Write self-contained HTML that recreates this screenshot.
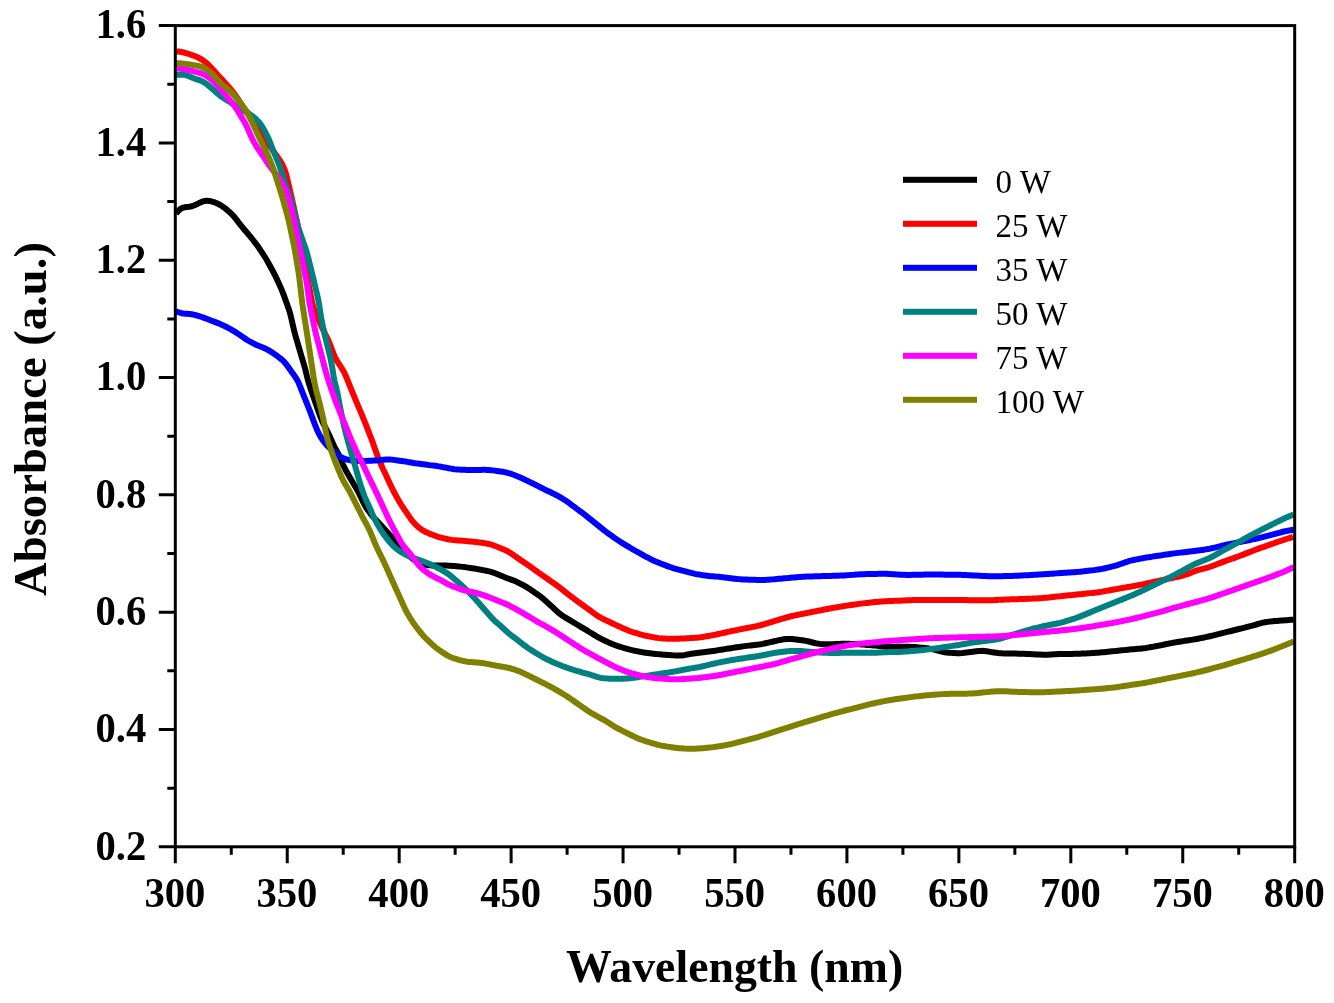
<!DOCTYPE html>
<html><head><meta charset="utf-8"><style>
html,body{margin:0;padding:0;background:#fff;width:1334px;height:1003px;overflow:hidden}
svg{display:block;will-change:transform}
text{font-family:"Liberation Serif",serif}
</style></head><body>
<svg width="1334" height="1003" viewBox="0 0 1334 1003">
<rect width="1334" height="1003" fill="#ffffff"/>
<g fill="none" stroke-width="6.00" stroke-linejoin="round" stroke-linecap="butt">
<path stroke="#000000" d="M176.00,213.50 L177.33,212.02 L178.68,210.59 L180.09,209.31 L181.59,208.29 L183.24,207.62 L185.03,207.27 L186.90,207.09 L188.82,206.89 L190.73,206.54 L192.62,206.00 L194.47,205.31 L196.27,204.49 L198.05,203.60 L199.81,202.70 L201.61,201.90 L203.45,201.27 L205.33,200.87 L207.24,200.76 L209.16,200.92 L211.08,201.29 L212.98,201.81 L214.86,202.46 L216.70,203.21 L218.49,204.06 L220.24,205.00 L221.94,206.03 L223.58,207.16 L225.16,208.37 L226.70,209.63 L228.22,210.92 L229.72,212.24 L231.18,213.60 L232.59,215.00 L233.92,216.48 L235.19,218.01 L236.42,219.59 L237.63,221.18 L238.84,222.77 L240.05,224.36 L241.29,225.93 L242.55,227.48 L243.84,229.00 L245.15,230.52 L246.46,232.02 L247.76,233.54 L249.05,235.08 L250.31,236.62 L251.56,238.18 L252.81,239.75 L254.05,241.32 L255.28,242.89 L256.48,244.49 L257.65,246.11 L258.80,247.75 L259.92,249.40 L261.04,251.06 L262.15,252.72 L263.25,254.39 L264.34,256.07 L265.40,257.76 L266.44,259.47 L267.44,261.20 L268.41,262.94 L269.38,264.70 L270.34,266.45 L271.29,268.21 L272.25,269.96 L273.19,271.73 L274.12,273.50 L275.03,275.28 L275.90,277.08 L276.75,278.88 L277.59,280.70 L278.42,282.52 L279.25,284.34 L280.07,286.16 L280.88,287.99 L281.68,289.82 L282.44,291.67 L283.17,293.53 L283.88,295.40 L284.56,297.28 L285.24,299.16 L285.91,301.05 L286.58,302.93 L287.25,304.81 L287.92,306.70 L288.58,308.59 L289.21,310.48 L289.79,312.39 L290.33,314.31 L290.82,316.25 L291.27,318.20 L291.72,320.15 L292.16,322.10 L292.60,324.05 L293.04,326.00 L293.49,327.95 L293.94,329.89 L294.42,331.84 L294.93,333.77 L295.46,335.70 L296.01,337.62 L296.57,339.54 L297.13,341.46 L297.70,343.38 L298.26,345.30 L298.83,347.21 L299.39,349.13 L299.96,351.05 L300.52,352.97 L301.09,354.89 L301.65,356.81 L302.22,358.72 L302.79,360.64 L303.36,362.56 L303.93,364.48 L304.47,366.40 L305.00,368.33 L305.49,370.26 L305.97,372.21 L306.44,374.15 L306.91,376.09 L307.39,378.03 L307.91,379.96 L308.45,381.89 L309.03,383.80 L309.64,385.71 L310.25,387.61 L310.88,389.51 L311.51,391.40 L312.16,393.30 L312.82,395.19 L313.48,397.07 L314.14,398.96 L314.80,400.85 L315.46,402.74 L316.12,404.62 L316.78,406.51 L317.44,408.40 L318.10,410.29 L318.76,412.18 L319.43,414.06 L320.10,415.94 L320.81,417.81 L321.55,419.66 L322.35,421.49 L323.19,423.30 L324.08,425.09 L324.99,426.88 L325.91,428.65 L326.84,430.42 L327.75,432.20 L328.63,433.99 L329.49,435.80 L330.32,437.62 L331.14,439.44 L331.94,441.27 L332.75,443.10 L333.58,444.92 L334.44,446.72 L335.33,448.51 L336.27,450.27 L337.24,452.02 L338.21,453.76 L339.15,455.51 L340.02,457.30 L340.82,459.12 L341.56,460.97 L342.30,462.82 L343.08,464.66 L343.91,466.48 L344.79,468.27 L345.70,470.04 L346.65,471.81 L347.62,473.55 L348.62,475.29 L349.62,477.01 L350.64,478.74 L351.66,480.46 L352.68,482.18 L353.69,483.90 L354.70,485.63 L355.71,487.36 L356.70,489.09 L357.68,490.83 L358.64,492.59 L359.55,494.37 L360.43,496.16 L361.28,497.97 L362.13,499.78 L362.99,501.59 L363.87,503.38 L364.80,505.14 L365.80,506.86 L366.86,508.55 L367.97,510.21 L369.12,511.84 L370.29,513.46 L371.52,515.03 L372.80,516.56 L374.13,518.04 L375.51,519.48 L376.91,520.91 L378.30,522.34 L379.69,523.79 L381.05,525.25 L382.40,526.72 L383.74,528.21 L385.07,529.70 L386.41,531.19 L387.75,532.67 L389.09,534.15 L390.45,535.62 L391.81,537.09 L393.17,538.56 L394.52,540.03 L395.87,541.50 L397.22,542.98 L398.56,544.47 L399.89,545.96 L401.23,547.45 L402.56,548.94 L403.90,550.42 L405.25,551.89 L406.64,553.33 L408.07,554.72 L409.55,556.05 L411.08,557.33 L412.63,558.59 L414.20,559.82 L415.78,561.03 L417.39,562.17 L419.05,563.18 L420.79,563.97 L422.63,564.52 L424.55,564.85 L426.51,565.06 L428.50,565.20 L430.49,565.31 L432.49,565.39 L434.49,565.45 L436.49,565.48 L438.49,565.50 L440.49,565.50 L442.49,565.52 L444.49,565.54 L446.48,565.60 L448.48,565.69 L450.48,565.81 L452.47,565.95 L454.47,566.10 L456.46,566.25 L458.45,566.43 L460.44,566.63 L462.43,566.86 L464.41,567.10 L466.39,567.36 L468.37,567.63 L470.35,567.91 L472.33,568.20 L474.31,568.52 L476.28,568.86 L478.24,569.21 L480.21,569.59 L482.17,569.97 L484.13,570.36 L486.09,570.76 L488.05,571.19 L489.99,571.64 L491.91,572.17 L493.80,572.77 L495.67,573.46 L497.52,574.22 L499.35,575.01 L501.19,575.80 L503.03,576.57 L504.89,577.32 L506.75,578.02 L508.63,578.70 L510.52,579.37 L512.39,580.07 L514.24,580.81 L516.06,581.61 L517.87,582.46 L519.67,583.34 L521.45,584.24 L523.22,585.17 L524.97,586.13 L526.69,587.14 L528.38,588.20 L530.05,589.30 L531.70,590.43 L533.35,591.56 L535.00,592.69 L536.65,593.83 L538.28,594.97 L539.90,596.14 L541.49,597.35 L543.04,598.61 L544.55,599.91 L546.04,601.25 L547.51,602.60 L548.98,603.95 L550.45,605.31 L551.91,606.67 L553.37,608.04 L554.83,609.41 L556.30,610.77 L557.78,612.10 L559.31,613.38 L560.89,614.58 L562.52,615.72 L564.20,616.79 L565.91,617.84 L567.62,618.87 L569.33,619.90 L571.05,620.93 L572.76,621.96 L574.48,622.99 L576.19,624.02 L577.91,625.04 L579.62,626.07 L581.34,627.10 L583.05,628.13 L584.77,629.16 L586.48,630.19 L588.19,631.23 L589.90,632.26 L591.61,633.31 L593.31,634.36 L595.02,635.40 L596.73,636.44 L598.45,637.44 L600.20,638.40 L601.98,639.32 L603.78,640.18 L605.59,641.03 L607.41,641.86 L609.23,642.68 L611.06,643.49 L612.90,644.27 L614.75,645.01 L616.63,645.69 L618.52,646.32 L620.43,646.92 L622.34,647.50 L624.26,648.07 L626.18,648.63 L628.10,649.17 L630.03,649.68 L631.98,650.14 L633.93,650.57 L635.89,650.97 L637.85,651.37 L639.81,651.75 L641.77,652.13 L643.74,652.47 L645.72,652.78 L647.70,653.05 L649.68,653.29 L651.67,653.51 L653.66,653.72 L655.65,653.93 L657.64,654.13 L659.63,654.32 L661.62,654.49 L663.61,654.66 L665.61,654.81 L667.60,654.96 L669.60,655.10 L671.59,655.24 L673.59,655.37 L675.58,655.48 L677.58,655.55 L679.56,655.56 L681.54,655.46 L683.50,655.23 L685.45,654.89 L687.40,654.48 L689.35,654.08 L691.31,653.73 L693.28,653.46 L695.27,653.24 L697.25,653.03 L699.24,652.82 L701.23,652.59 L703.21,652.33 L705.19,652.07 L707.18,651.79 L709.16,651.52 L711.14,651.24 L713.12,650.95 L715.09,650.66 L717.07,650.36 L719.05,650.05 L721.02,649.74 L723.00,649.42 L724.97,649.11 L726.95,648.79 L728.92,648.48 L730.90,648.17 L732.88,647.86 L734.85,647.56 L736.83,647.25 L738.81,646.95 L740.78,646.66 L742.76,646.37 L744.74,646.11 L746.73,645.86 L748.72,645.64 L750.71,645.43 L752.69,645.23 L754.68,645.02 L756.67,644.79 L758.65,644.53 L760.62,644.22 L762.58,643.86 L764.54,643.45 L766.49,643.02 L768.44,642.59 L770.39,642.14 L772.34,641.70 L774.29,641.25 L776.24,640.80 L778.19,640.36 L780.14,639.94 L782.11,639.58 L784.08,639.30 L786.06,639.10 L788.05,638.99 L790.04,638.98 L792.02,639.06 L794.01,639.22 L796.00,639.44 L797.98,639.68 L799.96,639.93 L801.94,640.21 L803.92,640.52 L805.88,640.88 L807.83,641.29 L809.77,641.76 L811.70,642.27 L813.63,642.76 L815.58,643.21 L817.53,643.58 L819.51,643.88 L821.49,644.11 L823.47,644.26 L825.47,644.34 L827.46,644.36 L829.46,644.34 L831.46,644.28 L833.46,644.20 L835.46,644.10 L837.45,644.00 L839.45,643.90 L841.45,643.82 L843.45,643.76 L845.44,643.74 L847.44,643.76 L849.44,643.82 L851.44,643.90 L853.43,644.00 L855.43,644.09 L857.43,644.20 L859.42,644.31 L861.42,644.44 L863.41,644.58 L865.41,644.74 L867.40,644.89 L869.40,645.06 L871.39,645.22 L873.38,645.40 L875.37,645.60 L877.36,645.82 L879.34,646.06 L881.33,646.30 L883.31,646.55 L885.30,646.78 L887.28,646.96 L889.27,647.08 L891.26,647.11 L893.25,647.04 L895.24,646.92 L897.23,646.80 L899.22,646.70 L901.22,646.65 L903.22,646.65 L905.22,646.69 L907.21,646.74 L909.21,646.81 L911.21,646.89 L913.21,646.98 L915.20,647.11 L917.20,647.26 L919.19,647.43 L921.18,647.62 L923.17,647.82 L925.16,648.04 L927.14,648.28 L929.11,648.58 L931.07,648.94 L933.01,649.38 L934.95,649.87 L936.88,650.38 L938.81,650.90 L940.75,651.40 L942.69,651.86 L944.64,652.24 L946.61,652.53 L948.59,652.73 L950.58,652.88 L952.57,653.00 L954.57,653.10 L956.57,653.16 L958.56,653.18 L960.55,653.13 L962.54,652.99 L964.53,652.80 L966.51,652.57 L968.50,652.32 L970.48,652.07 L972.46,651.81 L974.44,651.55 L976.43,651.29 L978.40,651.06 L980.38,650.90 L982.35,650.87 L984.32,650.98 L986.29,651.22 L988.25,651.54 L990.22,651.87 L992.20,652.20 L994.17,652.51 L996.15,652.79 L998.13,653.03 L1000.12,653.21 L1002.11,653.33 L1004.11,653.40 L1006.10,653.43 L1008.10,653.45 L1010.10,653.47 L1012.10,653.49 L1014.10,653.53 L1016.10,653.57 L1018.10,653.64 L1020.10,653.71 L1022.10,653.78 L1024.10,653.86 L1026.09,653.95 L1028.09,654.03 L1030.09,654.12 L1032.09,654.22 L1034.08,654.32 L1036.08,654.42 L1038.08,654.53 L1040.08,654.62 L1042.07,654.70 L1044.07,654.74 L1046.07,654.72 L1048.06,654.65 L1050.06,654.55 L1052.05,654.43 L1054.05,654.30 L1056.05,654.18 L1058.04,654.07 L1060.04,653.99 L1062.04,653.94 L1064.04,653.91 L1066.04,653.90 L1068.04,653.90 L1070.04,653.89 L1072.04,653.88 L1074.04,653.86 L1076.03,653.81 L1078.03,653.74 L1080.03,653.66 L1082.03,653.57 L1084.03,653.48 L1086.02,653.38 L1088.02,653.28 L1090.02,653.18 L1092.02,653.07 L1094.01,652.95 L1096.01,652.83 L1098.00,652.69 L1100.00,652.54 L1101.99,652.36 L1103.98,652.17 L1105.97,651.96 L1107.96,651.75 L1109.95,651.54 L1111.93,651.33 L1113.92,651.12 L1115.91,650.92 L1117.90,650.71 L1119.89,650.51 L1121.88,650.31 L1123.87,650.11 L1125.86,649.92 L1127.85,649.72 L1129.84,649.53 L1131.84,649.35 L1133.83,649.17 L1135.82,649.00 L1137.81,648.82 L1139.80,648.64 L1141.79,648.45 L1143.78,648.22 L1145.76,647.96 L1147.73,647.65 L1149.70,647.31 L1151.67,646.95 L1153.64,646.59 L1155.60,646.22 L1157.57,645.85 L1159.53,645.47 L1161.50,645.09 L1163.46,644.70 L1165.42,644.32 L1167.38,643.92 L1169.34,643.53 L1171.30,643.15 L1173.27,642.77 L1175.24,642.41 L1177.21,642.07 L1179.18,641.74 L1181.15,641.42 L1183.13,641.10 L1185.10,640.79 L1187.08,640.48 L1189.06,640.18 L1191.03,639.89 L1193.01,639.60 L1194.98,639.28 L1196.95,638.93 L1198.91,638.55 L1200.87,638.14 L1202.83,637.73 L1204.78,637.31 L1206.74,636.89 L1208.69,636.45 L1210.64,636.01 L1212.58,635.55 L1214.53,635.08 L1216.47,634.60 L1218.41,634.12 L1220.35,633.65 L1222.30,633.16 L1224.24,632.68 L1226.18,632.20 L1228.12,631.71 L1230.06,631.22 L1231.99,630.73 L1233.93,630.24 L1235.87,629.75 L1237.81,629.26 L1239.75,628.77 L1241.69,628.29 L1243.63,627.81 L1245.57,627.33 L1247.52,626.85 L1249.46,626.36 L1251.39,625.87 L1253.33,625.36 L1255.25,624.81 L1257.17,624.25 L1259.08,623.67 L1261.00,623.13 L1262.93,622.65 L1264.88,622.25 L1266.85,621.92 L1268.83,621.64 L1270.81,621.42 L1272.80,621.22 L1274.79,621.06 L1276.79,620.90 L1278.78,620.76 L1280.78,620.61 L1282.77,620.46 L1284.77,620.31 L1286.76,620.16 L1288.75,620.01 L1290.75,619.85 L1292.74,619.70 L1293.74,619.62"/>
<path stroke="#ff0000" d="M176.00,51.40 L177.99,51.56 L179.97,51.77 L181.93,52.07 L183.86,52.49 L185.78,53.02 L187.68,53.61 L189.58,54.24 L191.47,54.89 L193.35,55.55 L195.22,56.26 L197.05,57.03 L198.84,57.89 L200.59,58.85 L202.28,59.89 L203.92,61.01 L205.49,62.22 L206.99,63.52 L208.44,64.89 L209.86,66.29 L211.26,67.72 L212.63,69.18 L213.98,70.65 L215.31,72.14 L216.64,73.64 L217.96,75.14 L219.29,76.63 L220.63,78.12 L221.98,79.59 L223.34,81.06 L224.70,82.53 L226.05,84.00 L227.39,85.48 L228.71,86.98 L230.01,88.50 L231.29,90.04 L232.55,91.59 L233.77,93.17 L234.97,94.77 L236.13,96.40 L237.27,98.04 L238.38,99.70 L239.48,101.37 L240.59,103.04 L241.70,104.70 L242.83,106.35 L243.95,108.00 L245.08,109.66 L246.20,111.31 L247.31,112.97 L248.42,114.64 L249.53,116.30 L250.64,117.97 L251.75,119.63 L252.87,121.29 L253.99,122.95 L255.11,124.60 L256.25,126.25 L257.39,127.89 L258.54,129.53 L259.67,131.17 L260.78,132.83 L261.87,134.51 L262.94,136.20 L264.00,137.89 L265.07,139.58 L266.17,141.25 L267.30,142.89 L268.47,144.51 L269.67,146.12 L270.86,147.72 L272.05,149.33 L273.23,150.94 L274.40,152.57 L275.56,154.19 L276.72,155.83 L277.87,157.46 L279.01,159.10 L280.12,160.76 L281.17,162.45 L282.14,164.18 L283.02,165.96 L283.82,167.79 L284.55,169.64 L285.23,171.52 L285.83,173.42 L286.38,175.34 L286.87,177.27 L287.34,179.22 L287.80,181.16 L288.26,183.11 L288.71,185.06 L289.17,187.01 L289.62,188.95 L290.07,190.90 L290.53,192.85 L290.98,194.80 L291.43,196.75 L291.87,198.70 L292.31,200.65 L292.74,202.60 L293.18,204.55 L293.61,206.50 L294.05,208.46 L294.48,210.41 L294.91,212.36 L295.35,214.31 L295.78,216.27 L296.21,218.22 L296.64,220.17 L297.05,222.13 L297.44,224.09 L297.81,226.06 L298.16,228.02 L298.50,230.00 L298.83,231.97 L299.16,233.94 L299.49,235.91 L299.81,237.89 L300.14,239.86 L300.47,241.83 L300.80,243.80 L301.13,245.78 L301.47,247.75 L301.81,249.72 L302.17,251.69 L302.54,253.65 L302.93,255.61 L303.32,257.58 L303.71,259.54 L304.10,261.50 L304.49,263.46 L304.88,265.42 L305.28,267.38 L305.67,269.34 L306.06,271.30 L306.45,273.26 L306.84,275.23 L307.24,277.19 L307.63,279.15 L308.01,281.11 L308.39,283.07 L308.78,285.04 L309.15,287.00 L309.53,288.97 L309.91,290.93 L310.29,292.89 L310.66,294.86 L311.04,296.82 L311.42,298.79 L311.81,300.75 L312.21,302.70 L312.66,304.64 L313.19,306.56 L313.81,308.45 L314.51,310.32 L315.27,312.16 L316.05,314.00 L316.85,315.83 L317.65,317.67 L318.45,319.50 L319.25,321.33 L320.06,323.16 L320.88,324.98 L321.72,326.80 L322.58,328.60 L323.46,330.40 L324.35,332.19 L325.24,333.98 L326.13,335.77 L327.01,337.57 L327.87,339.37 L328.69,341.19 L329.47,343.03 L330.20,344.89 L330.90,346.76 L331.59,348.64 L332.28,350.51 L332.97,352.39 L333.69,354.25 L334.46,356.09 L335.31,357.88 L336.25,359.63 L337.28,361.34 L338.36,363.02 L339.46,364.69 L340.56,366.35 L341.64,368.03 L342.69,369.73 L343.67,371.46 L344.57,373.24 L345.41,375.05 L346.20,376.88 L346.96,378.73 L347.72,380.58 L348.47,382.43 L349.21,384.29 L349.96,386.14 L350.71,388.00 L351.45,389.85 L352.21,391.71 L352.96,393.56 L353.72,395.41 L354.48,397.26 L355.25,399.11 L356.02,400.95 L356.79,402.80 L357.57,404.64 L358.36,406.48 L359.14,408.32 L359.92,410.16 L360.71,412.00 L361.48,413.84 L362.25,415.69 L363.00,417.54 L363.75,419.39 L364.50,421.25 L365.24,423.11 L365.97,424.97 L366.71,426.83 L367.43,428.69 L368.16,430.56 L368.89,432.42 L369.61,434.28 L370.33,436.15 L371.06,438.01 L371.77,439.88 L372.47,441.75 L373.15,443.63 L373.82,445.52 L374.47,447.41 L375.12,449.30 L375.78,451.19 L376.46,453.07 L377.16,454.94 L377.88,456.81 L378.61,458.67 L379.36,460.52 L380.12,462.37 L380.90,464.21 L381.70,466.04 L382.53,467.87 L383.37,469.68 L384.24,471.48 L385.10,473.28 L385.95,475.09 L386.79,476.91 L387.62,478.72 L388.45,480.54 L389.29,482.36 L390.14,484.17 L391.01,485.97 L391.89,487.77 L392.79,489.56 L393.69,491.34 L394.60,493.12 L395.54,494.89 L396.49,496.64 L397.46,498.39 L398.44,500.14 L399.45,501.86 L400.48,503.57 L401.55,505.26 L402.64,506.94 L403.74,508.60 L404.86,510.27 L405.98,511.92 L407.10,513.57 L408.24,515.22 L409.38,516.86 L410.53,518.50 L411.71,520.10 L412.95,521.66 L414.25,523.16 L415.64,524.59 L417.08,525.96 L418.59,527.27 L420.15,528.50 L421.76,529.67 L423.43,530.74 L425.16,531.70 L426.95,532.56 L428.78,533.35 L430.64,534.10 L432.50,534.82 L434.37,535.52 L436.25,536.19 L438.15,536.80 L440.07,537.34 L442.00,537.85 L443.95,538.32 L445.89,538.77 L447.84,539.20 L449.80,539.57 L451.77,539.88 L453.75,540.11 L455.74,540.30 L457.73,540.45 L459.73,540.59 L461.72,540.73 L463.72,540.88 L465.71,541.05 L467.70,541.22 L469.69,541.41 L471.68,541.60 L473.67,541.80 L475.66,542.00 L477.65,542.23 L479.63,542.48 L481.61,542.76 L483.59,543.05 L485.56,543.37 L487.52,543.74 L489.46,544.18 L491.37,544.72 L493.26,545.34 L495.14,546.02 L497.01,546.74 L498.87,547.47 L500.73,548.20 L502.58,548.96 L504.41,549.74 L506.21,550.59 L507.97,551.51 L509.68,552.53 L511.36,553.61 L513.01,554.73 L514.65,555.87 L516.29,557.02 L517.93,558.17 L519.56,559.31 L521.21,560.45 L522.86,561.58 L524.52,562.70 L526.18,563.81 L527.84,564.92 L529.49,566.05 L531.13,567.20 L532.75,568.37 L534.36,569.55 L535.97,570.73 L537.59,571.91 L539.22,573.07 L540.86,574.22 L542.50,575.37 L544.14,576.51 L545.77,577.66 L547.41,578.81 L549.05,579.96 L550.68,581.11 L552.32,582.26 L553.96,583.41 L555.59,584.55 L557.22,585.71 L558.83,586.89 L560.42,588.11 L561.99,589.35 L563.54,590.61 L565.09,591.86 L566.66,593.10 L568.25,594.32 L569.84,595.53 L571.43,596.74 L573.02,597.95 L574.62,599.16 L576.22,600.35 L577.83,601.54 L579.46,602.70 L581.08,603.87 L582.71,605.03 L584.34,606.19 L585.96,607.37 L587.57,608.55 L589.18,609.74 L590.78,610.93 L592.38,612.13 L593.99,613.32 L595.61,614.49 L597.25,615.62 L598.94,616.68 L600.67,617.67 L602.44,618.60 L604.23,619.48 L606.03,620.35 L607.84,621.21 L609.64,622.06 L611.45,622.92 L613.26,623.77 L615.08,624.61 L616.89,625.45 L618.71,626.28 L620.53,627.11 L622.35,627.93 L624.18,628.75 L626.01,629.56 L627.84,630.34 L629.70,631.07 L631.58,631.74 L633.48,632.36 L635.39,632.93 L637.31,633.49 L639.23,634.04 L641.16,634.58 L643.09,635.09 L645.03,635.57 L646.98,636.01 L648.94,636.42 L650.90,636.80 L652.86,637.16 L654.83,637.52 L656.80,637.85 L658.78,638.14 L660.76,638.36 L662.75,638.51 L664.74,638.61 L666.74,638.67 L668.74,638.73 L670.74,638.77 L672.74,638.80 L674.73,638.79 L676.73,638.75 L678.73,638.68 L680.73,638.59 L682.72,638.49 L684.72,638.38 L686.72,638.27 L688.72,638.16 L690.71,638.05 L692.71,637.93 L694.70,637.81 L696.70,637.66 L698.69,637.48 L700.67,637.25 L702.65,636.97 L704.62,636.65 L706.59,636.31 L708.56,635.96 L710.53,635.60 L712.49,635.23 L714.45,634.85 L716.41,634.44 L718.37,634.02 L720.32,633.59 L722.27,633.15 L724.22,632.71 L726.17,632.27 L728.13,631.84 L730.08,631.42 L732.04,631.01 L734.00,630.61 L735.96,630.21 L737.92,629.82 L739.88,629.42 L741.84,629.03 L743.80,628.65 L745.77,628.26 L747.73,627.88 L749.69,627.49 L751.65,627.11 L753.62,626.73 L755.58,626.34 L757.53,625.92 L759.48,625.48 L761.41,624.98 L763.34,624.44 L765.26,623.88 L767.17,623.30 L769.08,622.71 L771.00,622.13 L772.91,621.55 L774.82,620.96 L776.74,620.38 L778.65,619.81 L780.57,619.23 L782.48,618.66 L784.40,618.09 L786.32,617.53 L788.24,616.99 L790.18,616.49 L792.12,616.03 L794.07,615.60 L796.03,615.20 L797.99,614.80 L799.95,614.41 L801.91,614.02 L803.88,613.62 L805.84,613.23 L807.80,612.84 L809.76,612.45 L811.72,612.06 L813.68,611.66 L815.64,611.27 L817.60,610.88 L819.56,610.49 L821.53,610.09 L823.49,609.70 L825.45,609.31 L827.41,608.93 L829.38,608.56 L831.34,608.20 L833.31,607.86 L835.29,607.52 L837.26,607.19 L839.23,606.86 L841.20,606.54 L843.18,606.22 L845.15,605.90 L847.13,605.60 L849.11,605.30 L851.09,605.01 L853.07,604.72 L855.04,604.43 L857.02,604.15 L859.01,603.88 L860.99,603.62 L862.97,603.38 L864.96,603.14 L866.95,602.91 L868.93,602.69 L870.92,602.47 L872.91,602.26 L874.90,602.07 L876.89,601.90 L878.89,601.75 L880.88,601.61 L882.88,601.48 L884.87,601.35 L886.87,601.22 L888.87,601.11 L890.86,601.01 L892.86,600.93 L894.86,600.86 L896.86,600.79 L898.86,600.71 L900.85,600.63 L902.85,600.54 L904.85,600.44 L906.85,600.33 L908.84,600.23 L910.84,600.13 L912.84,600.05 L914.84,599.98 L916.84,599.93 L918.84,599.91 L920.84,599.90 L922.84,599.90 L924.84,599.90 L926.84,599.90 L928.84,599.90 L930.84,599.90 L932.84,599.90 L934.84,599.90 L936.84,599.90 L938.84,599.90 L940.84,599.90 L942.84,599.90 L944.84,599.90 L946.84,599.90 L948.84,599.90 L950.84,599.90 L952.84,599.90 L954.84,599.90 L956.84,599.91 L958.84,599.92 L960.83,599.95 L962.83,599.99 L964.83,600.03 L966.83,600.08 L968.83,600.13 L970.83,600.18 L972.83,600.23 L974.83,600.26 L976.83,600.28 L978.83,600.29 L980.83,600.30 L982.83,600.30 L984.83,600.30 L986.83,600.28 L988.83,600.26 L990.83,600.21 L992.83,600.14 L994.82,600.05 L996.82,599.96 L998.82,599.87 L1000.82,599.78 L1002.82,599.69 L1004.81,599.61 L1006.81,599.53 L1008.81,599.45 L1010.81,599.37 L1012.81,599.30 L1014.81,599.22 L1016.81,599.16 L1018.80,599.10 L1020.80,599.05 L1022.80,598.99 L1024.80,598.94 L1026.80,598.87 L1028.80,598.80 L1030.80,598.72 L1032.79,598.62 L1034.79,598.51 L1036.79,598.39 L1038.78,598.27 L1040.78,598.14 L1042.77,598.00 L1044.77,597.85 L1046.76,597.66 L1048.75,597.46 L1050.74,597.25 L1052.72,597.02 L1054.71,596.80 L1056.70,596.58 L1058.69,596.36 L1060.68,596.15 L1062.66,595.94 L1064.65,595.74 L1066.64,595.54 L1068.63,595.34 L1070.62,595.14 L1072.61,594.94 L1074.60,594.74 L1076.59,594.54 L1078.58,594.34 L1080.57,594.14 L1082.56,593.94 L1084.55,593.74 L1086.54,593.54 L1088.53,593.34 L1090.52,593.13 L1092.51,592.92 L1094.50,592.70 L1096.49,592.47 L1098.47,592.21 L1100.45,591.93 L1102.42,591.61 L1104.39,591.27 L1106.36,590.91 L1108.32,590.55 L1110.29,590.18 L1112.26,589.82 L1114.22,589.46 L1116.19,589.10 L1118.16,588.76 L1120.13,588.41 L1122.10,588.07 L1124.07,587.73 L1126.04,587.38 L1128.01,587.04 L1129.98,586.69 L1131.95,586.33 L1133.92,585.97 L1135.88,585.60 L1137.85,585.23 L1139.81,584.86 L1141.78,584.49 L1143.74,584.10 L1145.70,583.70 L1147.65,583.28 L1149.61,582.85 L1151.56,582.41 L1153.51,581.97 L1155.46,581.53 L1157.41,581.10 L1159.37,580.67 L1161.32,580.26 L1163.28,579.85 L1165.24,579.45 L1167.20,579.06 L1169.16,578.66 L1171.12,578.27 L1173.08,577.85 L1175.03,577.43 L1176.98,576.98 L1178.92,576.51 L1180.86,576.02 L1182.80,575.52 L1184.72,574.97 L1186.61,574.36 L1188.48,573.67 L1190.33,572.93 L1192.17,572.16 L1194.02,571.43 L1195.90,570.76 L1197.80,570.17 L1199.72,569.63 L1201.66,569.12 L1203.59,568.62 L1205.53,568.11 L1207.45,567.59 L1209.37,567.02 L1211.26,566.39 L1213.14,565.72 L1215.01,565.02 L1216.88,564.29 L1218.74,563.56 L1220.60,562.84 L1222.47,562.11 L1224.34,561.41 L1226.21,560.72 L1228.10,560.04 L1229.98,559.38 L1231.87,558.72 L1233.76,558.06 L1235.65,557.40 L1237.53,556.73 L1239.41,556.05 L1241.28,555.35 L1243.15,554.63 L1245.01,553.89 L1246.87,553.15 L1248.72,552.41 L1250.58,551.67 L1252.44,550.94 L1254.31,550.22 L1256.18,549.52 L1258.06,548.83 L1259.94,548.16 L1261.83,547.49 L1263.71,546.82 L1265.60,546.16 L1267.49,545.49 L1269.37,544.83 L1271.26,544.17 L1273.15,543.51 L1275.04,542.85 L1276.93,542.20 L1278.82,541.54 L1280.71,540.89 L1282.60,540.25 L1284.50,539.61 L1286.40,538.99 L1288.30,538.38 L1290.21,537.78 L1292.12,537.19 L1293.07,536.89"/>
<path stroke="#0000ff" d="M176.00,311.30 L177.85,312.02 L179.72,312.68 L181.61,313.20 L183.53,313.54 L185.48,313.73 L187.45,313.83 L189.42,313.96 L191.38,314.19 L193.33,314.55 L195.27,315.01 L197.19,315.54 L199.10,316.12 L201.00,316.75 L202.89,317.40 L204.77,318.08 L206.64,318.79 L208.50,319.51 L210.37,320.23 L212.23,320.95 L214.10,321.66 L215.97,322.36 L217.84,323.08 L219.69,323.84 L221.52,324.64 L223.33,325.48 L225.12,326.36 L226.91,327.26 L228.68,328.19 L230.44,329.13 L232.18,330.11 L233.91,331.12 L235.61,332.17 L237.28,333.26 L238.93,334.39 L240.58,335.52 L242.22,336.65 L243.88,337.77 L245.55,338.87 L247.24,339.95 L248.94,340.99 L250.67,341.98 L252.43,342.93 L254.21,343.82 L256.02,344.67 L257.85,345.46 L259.70,346.21 L261.56,346.94 L263.40,347.70 L265.21,348.52 L266.99,349.42 L268.73,350.39 L270.44,351.43 L272.12,352.50 L273.78,353.61 L275.42,354.76 L277.04,355.93 L278.65,357.11 L280.24,358.31 L281.78,359.56 L283.25,360.89 L284.61,362.32 L285.87,363.84 L287.07,365.43 L288.23,367.05 L289.39,368.68 L290.55,370.31 L291.71,371.94 L292.88,373.56 L294.05,375.18 L295.20,376.82 L296.29,378.48 L297.29,380.19 L298.20,381.96 L299.01,383.77 L299.78,385.61 L300.52,387.47 L301.25,389.33 L301.98,391.19 L302.72,393.05 L303.46,394.91 L304.21,396.76 L304.95,398.62 L305.69,400.48 L306.43,402.33 L307.18,404.19 L307.92,406.05 L308.65,407.91 L309.37,409.77 L310.09,411.64 L310.79,413.51 L311.49,415.39 L312.19,417.26 L312.89,419.14 L313.59,421.01 L314.30,422.88 L315.01,424.75 L315.74,426.61 L316.49,428.46 L317.28,430.29 L318.12,432.11 L319.01,433.89 L319.95,435.65 L320.96,437.37 L322.03,439.06 L323.16,440.70 L324.35,442.29 L325.61,443.83 L326.94,445.32 L328.33,446.75 L329.76,448.15 L331.21,449.52 L332.68,450.87 L334.17,452.20 L335.67,453.50 L337.23,454.74 L338.86,455.87 L340.56,456.88 L342.33,457.78 L344.15,458.56 L346.02,459.23 L347.93,459.77 L349.88,460.19 L351.84,460.52 L353.82,460.76 L355.81,460.93 L357.80,461.04 L359.80,461.09 L361.80,461.08 L363.80,461.04 L365.79,460.96 L367.79,460.86 L369.79,460.75 L371.79,460.65 L373.78,460.54 L375.78,460.44 L377.77,460.31 L379.76,460.14 L381.75,459.93 L383.73,459.71 L385.70,459.52 L387.68,459.43 L389.66,459.46 L391.63,459.62 L393.61,459.86 L395.59,460.14 L397.57,460.42 L399.55,460.70 L401.53,460.97 L403.51,461.23 L405.49,461.52 L407.46,461.84 L409.43,462.19 L411.39,462.57 L413.35,462.94 L415.32,463.27 L417.30,463.55 L419.28,463.80 L421.26,464.03 L423.25,464.29 L425.23,464.56 L427.21,464.84 L429.19,465.11 L431.17,465.36 L433.15,465.59 L435.14,465.83 L437.12,466.09 L439.09,466.40 L441.06,466.74 L443.03,467.11 L444.99,467.50 L446.95,467.88 L448.91,468.26 L450.88,468.61 L452.85,468.92 L454.83,469.19 L456.82,469.41 L458.81,469.59 L460.80,469.72 L462.80,469.80 L464.80,469.86 L466.80,469.90 L468.79,469.94 L470.79,469.98 L472.79,470.01 L474.79,470.01 L476.79,469.99 L478.79,469.95 L480.79,469.90 L482.79,469.87 L484.79,469.87 L486.78,469.91 L488.78,470.00 L490.77,470.16 L492.75,470.37 L494.73,470.63 L496.71,470.91 L498.69,471.20 L500.67,471.50 L502.64,471.81 L504.61,472.15 L506.56,472.56 L508.49,473.05 L510.39,473.62 L512.28,474.27 L514.15,474.97 L516.00,475.71 L517.85,476.48 L519.68,477.28 L521.51,478.10 L523.32,478.93 L525.14,479.78 L526.94,480.64 L528.75,481.50 L530.55,482.36 L532.35,483.23 L534.15,484.11 L535.94,484.99 L537.73,485.90 L539.50,486.82 L541.27,487.75 L543.04,488.67 L544.83,489.57 L546.63,490.43 L548.45,491.26 L550.26,492.09 L552.07,492.94 L553.86,493.83 L555.64,494.75 L557.39,495.70 L559.14,496.67 L560.87,497.67 L562.60,498.68 L564.30,499.73 L565.98,500.80 L567.63,501.92 L569.25,503.09 L570.84,504.30 L572.42,505.52 L574.01,506.74 L575.60,507.95 L577.21,509.13 L578.83,510.31 L580.45,511.48 L582.06,512.67 L583.65,513.88 L585.23,515.10 L586.80,516.34 L588.36,517.59 L589.92,518.84 L591.48,520.09 L593.05,521.34 L594.60,522.59 L596.16,523.85 L597.71,525.11 L599.25,526.39 L600.79,527.66 L602.34,528.93 L603.89,530.18 L605.47,531.41 L607.08,532.60 L608.70,533.77 L610.33,534.93 L611.97,536.08 L613.60,537.22 L615.24,538.37 L616.89,539.50 L618.54,540.62 L620.21,541.72 L621.90,542.80 L623.60,543.85 L625.31,544.88 L627.03,545.91 L628.74,546.94 L630.46,547.97 L632.18,548.99 L633.90,550.00 L635.64,551.00 L637.38,551.98 L639.13,552.94 L640.88,553.90 L642.64,554.86 L644.40,555.82 L646.15,556.77 L647.91,557.72 L649.68,558.66 L651.46,559.56 L653.26,560.42 L655.09,561.23 L656.93,561.99 L658.79,562.73 L660.65,563.46 L662.52,564.18 L664.38,564.90 L666.25,565.62 L668.12,566.33 L670.00,567.02 L671.88,567.67 L673.79,568.28 L675.70,568.84 L677.63,569.38 L679.56,569.90 L681.49,570.41 L683.42,570.93 L685.36,571.44 L687.29,571.95 L689.22,572.46 L691.16,572.96 L693.10,573.42 L695.05,573.85 L697.01,574.23 L698.98,574.56 L700.96,574.87 L702.94,575.16 L704.92,575.45 L706.90,575.72 L708.88,575.96 L710.87,576.17 L712.86,576.34 L714.85,576.49 L716.85,576.63 L718.84,576.79 L720.83,576.97 L722.82,577.19 L724.80,577.42 L726.79,577.67 L728.77,577.92 L730.76,578.18 L732.74,578.43 L734.72,578.68 L736.71,578.91 L738.70,579.11 L740.69,579.27 L742.68,579.39 L744.68,579.49 L746.68,579.57 L748.68,579.64 L750.68,579.72 L752.68,579.79 L754.67,579.87 L756.67,579.94 L758.67,580.00 L760.67,580.04 L762.66,580.04 L764.66,579.98 L766.65,579.87 L768.65,579.72 L770.64,579.55 L772.63,579.37 L774.62,579.19 L776.61,579.01 L778.61,578.83 L780.60,578.65 L782.59,578.47 L784.58,578.29 L786.57,578.12 L788.57,577.94 L790.56,577.76 L792.55,577.58 L794.54,577.41 L796.53,577.23 L798.53,577.07 L800.52,576.91 L802.52,576.78 L804.51,576.67 L806.51,576.59 L808.51,576.52 L810.51,576.45 L812.51,576.39 L814.51,576.33 L816.50,576.26 L818.50,576.20 L820.50,576.14 L822.50,576.08 L824.50,576.03 L826.50,575.98 L828.50,575.93 L830.50,575.89 L832.50,575.85 L834.50,575.81 L836.50,575.76 L838.50,575.69 L840.49,575.61 L842.49,575.51 L844.49,575.39 L846.48,575.26 L848.48,575.13 L850.47,575.00 L852.47,574.87 L854.46,574.73 L856.46,574.60 L858.46,574.47 L860.45,574.36 L862.45,574.26 L864.45,574.18 L866.45,574.12 L868.45,574.07 L870.44,574.02 L872.44,573.98 L874.44,573.93 L876.44,573.89 L878.44,573.85 L880.44,573.81 L882.44,573.80 L884.44,573.81 L886.44,573.85 L888.43,573.94 L890.43,574.04 L892.43,574.16 L894.42,574.28 L896.42,574.41 L898.42,574.53 L900.41,574.65 L902.41,574.76 L904.41,574.84 L906.40,574.89 L908.40,574.91 L910.40,574.89 L912.40,574.86 L914.40,574.82 L916.40,574.78 L918.40,574.74 L920.40,574.70 L922.40,574.66 L924.40,574.62 L926.40,574.58 L928.40,574.56 L930.40,574.54 L932.40,574.54 L934.40,574.55 L936.40,574.57 L938.40,574.58 L940.40,574.60 L942.40,574.62 L944.40,574.64 L946.40,574.66 L948.40,574.68 L950.39,574.70 L952.39,574.72 L954.39,574.75 L956.39,574.77 L958.39,574.81 L960.39,574.87 L962.39,574.94 L964.39,575.03 L966.39,575.12 L968.38,575.22 L970.38,575.32 L972.38,575.42 L974.38,575.52 L976.37,575.62 L978.37,575.72 L980.37,575.82 L982.37,575.92 L984.36,576.01 L986.36,576.10 L988.36,576.17 L990.36,576.22 L992.36,576.24 L994.36,576.23 L996.36,576.21 L998.36,576.19 L1000.36,576.16 L1002.36,576.13 L1004.36,576.11 L1006.36,576.08 L1008.36,576.05 L1010.35,576.00 L1012.35,575.95 L1014.35,575.87 L1016.35,575.78 L1018.35,575.68 L1020.34,575.58 L1022.34,575.47 L1024.34,575.37 L1026.34,575.26 L1028.33,575.15 L1030.33,575.05 L1032.33,574.94 L1034.32,574.82 L1036.32,574.70 L1038.32,574.57 L1040.31,574.44 L1042.31,574.31 L1044.30,574.18 L1046.30,574.04 L1048.29,573.91 L1050.29,573.78 L1052.28,573.64 L1054.28,573.51 L1056.28,573.38 L1058.27,573.24 L1060.27,573.11 L1062.26,572.98 L1064.26,572.84 L1066.25,572.71 L1068.25,572.58 L1070.24,572.45 L1072.24,572.31 L1074.24,572.18 L1076.23,572.04 L1078.22,571.88 L1080.22,571.71 L1082.21,571.51 L1084.19,571.29 L1086.18,571.06 L1088.17,570.83 L1090.15,570.60 L1092.14,570.36 L1094.12,570.12 L1096.10,569.86 L1098.08,569.57 L1100.05,569.24 L1102.01,568.87 L1103.97,568.46 L1105.92,568.03 L1107.88,567.60 L1109.83,567.15 L1111.77,566.69 L1113.70,566.19 L1115.62,565.65 L1117.53,565.05 L1119.43,564.42 L1121.32,563.76 L1123.20,563.10 L1125.09,562.45 L1126.99,561.81 L1128.89,561.22 L1130.81,560.69 L1132.75,560.21 L1134.70,559.78 L1136.66,559.37 L1138.62,558.98 L1140.58,558.59 L1142.55,558.22 L1144.51,557.86 L1146.48,557.52 L1148.46,557.21 L1150.44,556.91 L1152.41,556.61 L1154.39,556.32 L1156.37,556.03 L1158.35,555.74 L1160.33,555.44 L1162.31,555.14 L1164.28,554.84 L1166.26,554.54 L1168.24,554.24 L1170.21,553.94 L1172.19,553.65 L1174.17,553.37 L1176.16,553.11 L1178.14,552.87 L1180.13,552.64 L1182.12,552.42 L1184.10,552.20 L1186.09,551.98 L1188.08,551.76 L1190.07,551.54 L1192.05,551.31 L1194.04,551.07 L1196.02,550.82 L1198.00,550.55 L1199.98,550.27 L1201.96,549.98 L1203.94,549.68 L1205.92,549.38 L1207.89,549.05 L1209.85,548.69 L1211.81,548.27 L1213.75,547.83 L1215.70,547.35 L1217.64,546.87 L1219.58,546.38 L1221.52,545.90 L1223.46,545.43 L1225.41,544.98 L1227.36,544.55 L1229.32,544.14 L1231.28,543.75 L1233.24,543.35 L1235.20,542.96 L1237.16,542.57 L1239.12,542.18 L1241.08,541.78 L1243.05,541.39 L1245.01,541.00 L1246.97,540.61 L1248.93,540.21 L1250.89,539.81 L1252.85,539.41 L1254.80,538.98 L1256.75,538.54 L1258.70,538.08 L1260.64,537.61 L1262.58,537.13 L1264.52,536.65 L1266.46,536.16 L1268.40,535.67 L1270.34,535.17 L1272.27,534.65 L1274.20,534.12 L1276.12,533.58 L1278.05,533.05 L1279.98,532.52 L1281.91,532.00 L1283.85,531.52 L1285.80,531.08 L1287.75,530.69 L1289.72,530.33 L1291.69,529.99 L1293.66,529.66"/>
<path stroke="#008080" d="M176.00,75.00 L177.99,74.83 L179.97,74.70 L181.94,74.66 L183.88,74.78 L185.77,75.14 L187.62,75.72 L189.44,76.46 L191.25,77.26 L193.08,78.03 L194.95,78.73 L196.83,79.36 L198.72,79.96 L200.59,80.60 L202.38,81.38 L204.09,82.32 L205.72,83.42 L207.30,84.62 L208.84,85.89 L210.37,87.17 L211.88,88.48 L213.38,89.80 L214.88,91.13 L216.36,92.47 L217.86,93.79 L219.38,95.08 L220.95,96.30 L222.57,97.46 L224.24,98.55 L225.94,99.60 L227.64,100.64 L229.35,101.68 L231.04,102.75 L232.72,103.83 L234.39,104.93 L236.07,106.01 L237.76,107.08 L239.47,108.11 L241.20,109.11 L242.95,110.08 L244.70,111.04 L246.44,112.02 L248.14,113.05 L249.80,114.15 L251.41,115.32 L252.98,116.56 L254.51,117.84 L255.99,119.17 L257.42,120.56 L258.78,122.01 L260.05,123.53 L261.21,125.14 L262.28,126.81 L263.29,128.53 L264.26,130.27 L265.21,132.04 L266.13,133.81 L267.03,135.59 L267.90,137.39 L268.74,139.20 L269.54,141.03 L270.28,142.89 L270.98,144.76 L271.67,146.63 L272.36,148.51 L273.08,150.37 L273.83,152.22 L274.62,154.06 L275.43,155.89 L276.23,157.72 L277.02,159.56 L277.79,161.40 L278.52,163.26 L279.22,165.13 L279.91,167.01 L280.57,168.90 L281.21,170.79 L281.83,172.69 L282.43,174.60 L283.02,176.51 L283.62,178.42 L284.23,180.32 L284.87,182.22 L285.51,184.11 L286.17,186.00 L286.82,187.89 L287.48,189.78 L288.14,191.67 L288.78,193.56 L289.41,195.46 L290.01,197.37 L290.58,199.28 L291.13,201.20 L291.67,203.13 L292.20,205.06 L292.72,206.99 L293.25,208.92 L293.78,210.85 L294.30,212.78 L294.83,214.71 L295.36,216.64 L295.88,218.56 L296.41,220.49 L296.93,222.42 L297.46,224.35 L298.00,226.28 L298.56,228.20 L299.15,230.11 L299.76,232.01 L300.41,233.90 L301.07,235.79 L301.74,237.67 L302.41,239.56 L303.09,241.44 L303.76,243.32 L304.43,245.21 L305.09,247.10 L305.72,248.99 L306.33,250.89 L306.89,252.81 L307.41,254.74 L307.91,256.68 L308.40,258.61 L308.89,260.55 L309.37,262.49 L309.86,264.43 L310.34,266.37 L310.83,268.32 L311.31,270.26 L311.79,272.20 L312.27,274.14 L312.74,276.08 L313.21,278.03 L313.67,279.97 L314.13,281.92 L314.59,283.87 L315.04,285.81 L315.50,287.76 L315.96,289.71 L316.42,291.65 L316.88,293.60 L317.33,295.55 L317.77,297.50 L318.18,299.46 L318.56,301.42 L318.91,303.38 L319.24,305.36 L319.55,307.33 L319.86,309.31 L320.16,311.29 L320.47,313.26 L320.77,315.24 L321.10,317.21 L321.43,319.18 L321.80,321.15 L322.19,323.11 L322.59,325.07 L323.01,327.02 L323.43,328.98 L323.85,330.93 L324.29,332.88 L324.74,334.83 L325.21,336.78 L325.68,338.72 L326.17,340.66 L326.65,342.60 L327.14,344.54 L327.62,346.48 L328.11,348.42 L328.59,350.36 L329.07,352.30 L329.55,354.25 L330.00,356.19 L330.44,358.14 L330.84,360.10 L331.23,362.06 L331.59,364.03 L331.94,366.00 L332.29,367.97 L332.62,369.94 L332.94,371.91 L333.26,373.89 L333.58,375.86 L333.93,377.83 L334.31,379.79 L334.74,381.74 L335.22,383.68 L335.71,385.62 L336.20,387.55 L336.66,389.50 L337.09,391.45 L337.49,393.41 L337.86,395.37 L338.22,397.34 L338.59,399.31 L338.95,401.27 L339.32,403.24 L339.69,405.20 L340.07,407.17 L340.45,409.13 L340.85,411.09 L341.25,413.05 L341.66,415.01 L342.07,416.97 L342.49,418.92 L342.92,420.87 L343.36,422.82 L343.80,424.77 L344.26,426.72 L344.72,428.67 L345.19,430.61 L345.68,432.55 L346.17,434.49 L346.68,436.42 L347.19,438.36 L347.71,440.29 L348.23,442.22 L348.77,444.15 L349.30,446.07 L349.85,448.00 L350.40,449.92 L350.96,451.84 L351.53,453.76 L352.10,455.67 L352.67,457.59 L353.24,459.51 L353.80,461.43 L354.36,463.35 L354.92,465.27 L355.47,467.19 L356.01,469.11 L356.55,471.04 L357.09,472.97 L357.63,474.89 L358.17,476.82 L358.71,478.74 L359.27,480.67 L359.83,482.58 L360.42,484.49 L361.03,486.40 L361.66,488.30 L362.30,490.19 L362.96,492.08 L363.63,493.96 L364.32,495.83 L365.06,497.69 L365.86,499.52 L366.69,501.33 L367.55,503.14 L368.41,504.94 L369.24,506.76 L370.05,508.59 L370.84,510.43 L371.61,512.27 L372.40,514.11 L373.20,515.94 L374.04,517.75 L374.92,519.54 L375.84,521.32 L376.78,523.08 L377.74,524.83 L378.73,526.57 L379.75,528.29 L380.80,529.98 L381.90,531.65 L383.03,533.30 L384.18,534.94 L385.35,536.56 L386.55,538.16 L387.78,539.72 L389.06,541.26 L390.37,542.77 L391.71,544.25 L393.07,545.70 L394.49,547.10 L395.98,548.41 L397.54,549.64 L399.16,550.80 L400.83,551.89 L402.53,552.93 L404.27,553.90 L406.05,554.81 L407.86,555.66 L409.69,556.46 L411.54,557.21 L413.40,557.93 L415.28,558.63 L417.16,559.30 L419.04,559.98 L420.92,560.65 L422.80,561.35 L424.67,562.05 L426.53,562.78 L428.39,563.53 L430.23,564.30 L432.05,565.12 L433.86,565.97 L435.65,566.85 L437.44,567.75 L439.21,568.67 L440.97,569.62 L442.72,570.60 L444.45,571.60 L446.15,572.63 L447.83,573.71 L449.45,574.87 L451.02,576.09 L452.56,577.36 L454.07,578.66 L455.58,579.98 L457.08,581.30 L458.58,582.62 L460.08,583.95 L461.56,585.29 L463.03,586.65 L464.47,588.03 L465.90,589.42 L467.33,590.83 L468.74,592.24 L470.15,593.66 L471.56,595.08 L472.96,596.51 L474.34,597.95 L475.70,599.42 L477.03,600.91 L478.35,602.41 L479.65,603.93 L480.96,605.45 L482.26,606.96 L483.57,608.47 L484.89,609.98 L486.21,611.48 L487.54,612.98 L488.86,614.47 L490.19,615.97 L491.53,617.45 L492.87,618.93 L494.25,620.36 L495.69,621.73 L497.18,623.03 L498.71,624.29 L500.24,625.56 L501.73,626.88 L503.19,628.23 L504.63,629.61 L506.08,630.99 L507.56,632.32 L509.09,633.61 L510.66,634.84 L512.25,636.04 L513.86,637.23 L515.45,638.44 L517.04,639.66 L518.61,640.89 L520.18,642.13 L521.76,643.36 L523.35,644.57 L524.95,645.77 L526.56,646.95 L528.19,648.11 L529.84,649.24 L531.51,650.33 L533.20,651.39 L534.91,652.44 L536.62,653.47 L538.34,654.50 L540.05,655.52 L541.78,656.53 L543.52,657.52 L545.27,658.46 L547.06,659.36 L548.86,660.23 L550.67,661.07 L552.49,661.90 L554.32,662.72 L556.14,663.53 L557.98,664.33 L559.82,665.09 L561.68,665.82 L563.56,666.51 L565.44,667.18 L567.33,667.84 L569.22,668.49 L571.11,669.14 L573.01,669.77 L574.92,670.37 L576.83,670.94 L578.76,671.48 L580.68,672.01 L582.62,672.53 L584.55,673.05 L586.47,673.58 L588.40,674.13 L590.31,674.71 L592.21,675.31 L594.11,675.94 L596.01,676.55 L597.92,677.12 L599.84,677.59 L601.80,677.94 L603.77,678.19 L605.75,678.37 L607.75,678.51 L609.74,678.64 L611.74,678.75 L613.73,678.83 L615.73,678.86 L617.73,678.85 L619.73,678.80 L621.72,678.73 L623.72,678.65 L625.72,678.55 L627.71,678.43 L629.70,678.26 L631.69,678.05 L633.67,677.78 L635.64,677.49 L637.62,677.18 L639.60,676.87 L641.57,676.55 L643.55,676.24 L645.52,675.94 L647.50,675.64 L649.48,675.35 L651.46,675.05 L653.44,674.76 L655.41,674.47 L657.39,674.18 L659.37,673.88 L661.35,673.59 L663.33,673.29 L665.30,672.99 L667.28,672.68 L669.26,672.38 L671.23,672.07 L673.21,671.74 L675.18,671.41 L677.14,671.05 L679.11,670.67 L681.07,670.28 L683.03,669.89 L684.99,669.51 L686.96,669.13 L688.92,668.76 L690.89,668.41 L692.86,668.09 L694.84,667.77 L696.81,667.45 L698.78,667.10 L700.74,666.72 L702.69,666.30 L704.64,665.84 L706.58,665.37 L708.53,664.90 L710.47,664.42 L712.41,663.96 L714.36,663.51 L716.31,663.07 L718.27,662.66 L720.23,662.26 L722.19,661.86 L724.15,661.47 L726.11,661.09 L728.08,660.71 L730.05,660.36 L732.02,660.02 L733.99,659.70 L735.97,659.39 L737.94,659.08 L739.92,658.78 L741.90,658.48 L743.87,658.18 L745.85,657.88 L747.83,657.59 L749.81,657.30 L751.79,657.00 L753.77,656.71 L755.74,656.42 L757.72,656.11 L759.69,655.78 L761.66,655.43 L763.63,655.06 L765.59,654.68 L767.55,654.29 L769.51,653.90 L771.48,653.52 L773.44,653.17 L775.41,652.83 L777.39,652.53 L779.37,652.26 L781.35,652.00 L783.34,651.75 L785.32,651.51 L787.31,651.30 L789.30,651.12 L791.29,651.01 L793.28,650.94 L795.28,650.92 L797.28,650.94 L799.28,651.00 L801.27,651.10 L803.27,651.23 L805.26,651.40 L807.25,651.58 L809.24,651.76 L811.23,651.94 L813.23,652.10 L815.22,652.25 L817.22,652.38 L819.21,652.49 L821.21,652.59 L823.21,652.68 L825.21,652.77 L827.20,652.84 L829.20,652.90 L831.20,652.93 L833.20,652.94 L835.20,652.92 L837.20,652.90 L839.20,652.88 L841.20,652.85 L843.20,652.83 L845.20,652.82 L847.20,652.81 L849.20,652.80 L851.20,652.80 L853.20,652.80 L855.20,652.80 L857.20,652.80 L859.20,652.80 L861.20,652.80 L863.20,652.80 L865.20,652.80 L867.20,652.80 L869.20,652.80 L871.20,652.79 L873.20,652.76 L875.20,652.72 L877.20,652.65 L879.19,652.57 L881.19,652.47 L883.19,652.36 L885.19,652.26 L887.18,652.17 L889.18,652.10 L891.18,652.05 L893.18,652.02 L895.18,652.00 L897.18,651.97 L899.18,651.92 L901.17,651.84 L903.17,651.72 L905.16,651.58 L907.16,651.43 L909.15,651.27 L911.14,651.10 L913.14,650.94 L915.13,650.76 L917.12,650.58 L919.11,650.39 L921.10,650.19 L923.09,649.99 L925.08,649.79 L927.07,649.57 L929.05,649.34 L931.04,649.09 L933.02,648.82 L935.00,648.53 L936.97,648.23 L938.95,647.93 L940.93,647.63 L942.91,647.32 L944.88,647.03 L946.86,646.73 L948.84,646.44 L950.82,646.15 L952.80,645.86 L954.78,645.56 L956.75,645.27 L958.73,644.96 L960.70,644.64 L962.67,644.30 L964.64,643.96 L966.61,643.61 L968.58,643.26 L970.55,642.91 L972.52,642.58 L974.50,642.27 L976.48,642.00 L978.46,641.75 L980.45,641.52 L982.44,641.31 L984.42,641.09 L986.41,640.87 L988.40,640.63 L990.38,640.36 L992.36,640.07 L994.33,639.74 L996.29,639.39 L998.25,639.00 L1000.20,638.55 L1002.12,638.04 L1004.04,637.48 L1005.95,636.89 L1007.86,636.28 L1009.76,635.68 L1011.67,635.07 L1013.57,634.47 L1015.48,633.87 L1017.39,633.27 L1019.30,632.68 L1021.22,632.09 L1023.13,631.51 L1025.04,630.93 L1026.96,630.35 L1028.88,629.80 L1030.81,629.27 L1032.74,628.77 L1034.68,628.28 L1036.62,627.81 L1038.57,627.35 L1040.51,626.88 L1042.46,626.43 L1044.41,626.00 L1046.37,625.59 L1048.33,625.19 L1050.29,624.82 L1052.26,624.44 L1054.22,624.07 L1056.19,623.69 L1058.14,623.28 L1060.09,622.83 L1062.02,622.33 L1063.95,621.79 L1065.87,621.23 L1067.78,620.66 L1069.70,620.08 L1071.61,619.49 L1073.51,618.88 L1075.40,618.23 L1077.28,617.54 L1079.14,616.83 L1081.00,616.10 L1082.86,615.36 L1084.72,614.61 L1086.57,613.87 L1088.43,613.12 L1090.28,612.36 L1092.13,611.60 L1093.97,610.83 L1095.82,610.06 L1097.67,609.29 L1099.51,608.53 L1101.36,607.77 L1103.22,607.02 L1105.07,606.27 L1106.93,605.53 L1108.79,604.79 L1110.64,604.04 L1112.50,603.30 L1114.36,602.56 L1116.22,601.81 L1118.07,601.07 L1119.93,600.33 L1121.79,599.59 L1123.64,598.84 L1125.50,598.09 L1127.35,597.34 L1129.20,596.57 L1131.03,595.79 L1132.87,594.98 L1134.69,594.17 L1136.51,593.35 L1138.34,592.52 L1140.16,591.69 L1141.97,590.86 L1143.79,590.02 L1145.59,589.16 L1147.39,588.28 L1149.19,587.40 L1150.98,586.51 L1152.77,585.62 L1154.56,584.72 L1156.35,583.83 L1158.14,582.94 L1159.93,582.06 L1161.73,581.18 L1163.53,580.31 L1165.33,579.44 L1167.13,578.58 L1168.94,577.71 L1170.74,576.84 L1172.53,575.96 L1174.32,575.06 L1176.10,574.14 L1177.86,573.21 L1179.62,572.25 L1181.37,571.29 L1183.13,570.33 L1184.88,569.37 L1186.63,568.40 L1188.38,567.44 L1190.14,566.48 L1191.90,565.54 L1193.68,564.64 L1195.49,563.78 L1197.31,562.98 L1199.16,562.22 L1201.02,561.48 L1202.88,560.75 L1204.74,560.02 L1206.59,559.28 L1208.43,558.49 L1210.24,557.66 L1212.03,556.77 L1213.79,555.82 L1215.54,554.86 L1217.28,553.87 L1219.02,552.89 L1220.76,551.90 L1222.50,550.92 L1224.25,549.94 L1225.99,548.97 L1227.75,548.01 L1229.50,547.04 L1231.25,546.08 L1233.01,545.12 L1234.76,544.16 L1236.52,543.20 L1238.27,542.24 L1240.02,541.28 L1241.78,540.31 L1243.53,539.35 L1245.28,538.38 L1247.03,537.41 L1248.78,536.44 L1250.53,535.48 L1252.28,534.52 L1254.04,533.57 L1255.81,532.64 L1257.59,531.72 L1259.37,530.82 L1261.16,529.92 L1262.95,529.03 L1264.74,528.13 L1266.53,527.24 L1268.32,526.34 L1270.10,525.45 L1271.89,524.55 L1273.68,523.66 L1275.47,522.76 L1277.26,521.87 L1279.05,520.98 L1280.84,520.09 L1282.64,519.22 L1284.45,518.36 L1286.27,517.54 L1288.10,516.75 L1289.95,515.97 L1291.80,515.21 L1293.64,514.45"/>
<path stroke="#ff00ff" d="M176.00,68.30 L177.99,68.50 L179.98,68.72 L181.96,68.97 L183.93,69.27 L185.90,69.62 L187.86,70.01 L189.81,70.43 L191.76,70.88 L193.70,71.36 L195.64,71.86 L197.57,72.38 L199.49,72.93 L201.38,73.54 L203.23,74.23 L205.02,75.06 L206.73,76.03 L208.38,77.13 L209.97,78.32 L211.51,79.58 L212.98,80.92 L214.40,82.32 L215.78,83.76 L217.12,85.24 L218.46,86.73 L219.78,88.23 L221.08,89.74 L222.38,91.27 L223.66,92.80 L224.94,94.33 L226.23,95.87 L227.51,97.41 L228.79,98.94 L230.07,100.48 L231.34,102.02 L232.60,103.57 L233.83,105.15 L235.01,106.75 L236.14,108.40 L237.23,110.07 L238.30,111.76 L239.34,113.47 L240.38,115.18 L241.40,116.89 L242.43,118.61 L243.44,120.34 L244.44,122.07 L245.41,123.81 L246.32,125.58 L247.19,127.38 L248.00,129.21 L248.79,131.05 L249.56,132.89 L250.35,134.72 L251.18,136.54 L252.04,138.34 L252.95,140.12 L253.90,141.88 L254.87,143.63 L255.87,145.36 L256.91,147.06 L257.98,148.75 L259.09,150.41 L260.23,152.05 L261.37,153.69 L262.50,155.34 L263.62,157.00 L264.72,158.67 L265.81,160.35 L266.89,162.02 L268.00,163.69 L269.14,165.33 L270.32,166.93 L271.55,168.51 L272.81,170.05 L274.08,171.60 L275.33,173.16 L276.56,174.74 L277.76,176.34 L278.91,177.96 L280.02,179.62 L281.06,181.32 L282.04,183.06 L282.99,184.81 L283.92,186.59 L284.82,188.37 L285.68,190.17 L286.47,191.99 L287.17,193.85 L287.78,195.75 L288.34,197.66 L288.86,199.59 L289.37,201.52 L289.88,203.46 L290.39,205.39 L290.90,207.33 L291.41,209.26 L291.92,211.19 L292.43,213.13 L292.93,215.06 L293.43,217.00 L293.92,218.94 L294.38,220.89 L294.80,222.84 L295.21,224.80 L295.59,226.76 L295.97,228.72 L296.35,230.69 L296.72,232.65 L297.09,234.62 L297.47,236.58 L297.84,238.55 L298.22,240.51 L298.59,242.47 L298.96,244.44 L299.34,246.40 L299.72,248.37 L300.10,250.33 L300.49,252.29 L300.88,254.25 L301.29,256.21 L301.69,258.17 L302.11,260.13 L302.52,262.08 L302.93,264.04 L303.34,266.00 L303.75,267.96 L304.17,269.91 L304.58,271.87 L304.99,273.83 L305.40,275.79 L305.79,277.75 L306.17,279.71 L306.52,281.68 L306.83,283.65 L307.13,285.63 L307.41,287.61 L307.68,289.59 L307.95,291.57 L308.23,293.55 L308.50,295.53 L308.77,297.51 L309.05,299.49 L309.33,301.47 L309.64,303.45 L309.97,305.42 L310.33,307.39 L310.71,309.35 L311.11,311.31 L311.51,313.27 L311.92,315.23 L312.33,317.19 L312.73,319.14 L313.14,321.10 L313.54,323.06 L313.95,325.02 L314.36,326.98 L314.78,328.93 L315.21,330.88 L315.66,332.83 L316.14,334.77 L316.63,336.71 L317.14,338.64 L317.65,340.58 L318.17,342.51 L318.68,344.44 L319.20,346.37 L319.71,348.31 L320.23,350.24 L320.74,352.17 L321.25,354.11 L321.75,356.04 L322.24,357.98 L322.73,359.92 L323.22,361.86 L323.71,363.80 L324.21,365.74 L324.73,367.67 L325.25,369.60 L325.79,371.52 L326.34,373.45 L326.89,375.37 L327.45,377.29 L328.03,379.20 L328.62,381.11 L329.24,383.01 L329.88,384.91 L330.52,386.80 L331.16,388.70 L331.82,390.59 L332.47,392.48 L333.13,394.36 L333.79,396.25 L334.47,398.14 L335.15,400.02 L335.85,401.89 L336.56,403.76 L337.30,405.61 L338.05,407.47 L338.81,409.32 L339.57,411.17 L340.33,413.02 L341.09,414.87 L341.85,416.72 L342.61,418.57 L343.37,420.42 L344.13,422.27 L344.89,424.12 L345.64,425.97 L346.40,427.82 L347.15,429.68 L347.89,431.54 L348.62,433.40 L349.35,435.26 L350.10,437.11 L350.85,438.96 L351.63,440.80 L352.43,442.64 L353.24,444.46 L354.06,446.29 L354.89,448.11 L355.74,449.92 L356.60,451.72 L357.48,453.52 L358.37,455.31 L359.27,457.10 L360.16,458.89 L361.05,460.68 L361.93,462.47 L362.79,464.28 L363.65,466.08 L364.51,467.89 L365.36,469.70 L366.21,471.51 L367.07,473.32 L367.93,475.12 L368.79,476.93 L369.66,478.73 L370.54,480.53 L371.41,482.32 L372.29,484.12 L373.16,485.92 L374.03,487.72 L374.89,489.53 L375.76,491.33 L376.62,493.14 L377.48,494.94 L378.33,496.75 L379.18,498.56 L380.02,500.38 L380.86,502.19 L381.70,504.01 L382.53,505.82 L383.37,507.64 L384.21,509.46 L385.05,511.27 L385.89,513.09 L386.73,514.90 L387.57,516.72 L388.42,518.53 L389.28,520.33 L390.17,522.12 L391.08,523.90 L392.01,525.67 L392.96,527.43 L393.92,529.19 L394.87,530.95 L395.81,532.71 L396.75,534.47 L397.69,536.24 L398.62,538.01 L399.56,539.77 L400.53,541.51 L401.57,543.21 L402.69,544.84 L403.90,546.42 L405.18,547.95 L406.48,549.46 L407.77,550.98 L409.04,552.52 L410.29,554.08 L411.52,555.66 L412.74,557.25 L413.94,558.85 L415.13,560.46 L416.32,562.06 L417.53,563.65 L418.78,565.19 L420.11,566.66 L421.53,568.06 L423.01,569.38 L424.55,570.65 L426.13,571.87 L427.75,573.03 L429.41,574.13 L431.11,575.18 L432.84,576.17 L434.61,577.10 L436.40,577.98 L438.20,578.84 L439.99,579.71 L441.76,580.63 L443.50,581.61 L445.22,582.61 L446.95,583.59 L448.71,584.51 L450.52,585.35 L452.36,586.12 L454.21,586.85 L456.08,587.57 L457.95,588.27 L459.83,588.94 L461.72,589.57 L463.64,590.14 L465.57,590.64 L467.51,591.08 L469.47,591.49 L471.43,591.89 L473.39,592.30 L475.34,592.73 L477.27,593.21 L479.19,593.76 L481.09,594.36 L482.99,595.00 L484.87,595.67 L486.75,596.35 L488.63,597.04 L490.50,597.74 L492.36,598.46 L494.23,599.20 L496.08,599.93 L497.94,600.68 L499.80,601.42 L501.65,602.17 L503.50,602.92 L505.34,603.71 L507.16,604.53 L508.95,605.40 L510.73,606.32 L512.49,607.27 L514.24,608.23 L515.99,609.20 L517.74,610.17 L519.49,611.14 L521.23,612.13 L522.96,613.12 L524.69,614.13 L526.41,615.15 L528.13,616.18 L529.84,617.20 L531.56,618.23 L533.27,619.26 L534.99,620.28 L536.72,621.29 L538.46,622.28 L540.20,623.26 L541.95,624.23 L543.70,625.19 L545.46,626.15 L547.21,627.11 L548.96,628.08 L550.70,629.07 L552.42,630.08 L554.13,631.12 L555.82,632.19 L557.50,633.27 L559.17,634.36 L560.85,635.45 L562.52,636.55 L564.20,637.64 L565.87,638.73 L567.55,639.83 L569.23,640.91 L570.91,642.00 L572.59,643.09 L574.26,644.17 L575.94,645.26 L577.63,646.34 L579.31,647.42 L581.01,648.48 L582.71,649.52 L584.44,650.53 L586.18,651.52 L587.92,652.50 L589.67,653.47 L591.42,654.43 L593.17,655.40 L594.92,656.36 L596.68,657.32 L598.44,658.27 L600.20,659.21 L601.97,660.15 L603.74,661.08 L605.51,662.01 L607.28,662.94 L609.05,663.87 L610.83,664.79 L612.61,665.69 L614.41,666.57 L616.22,667.40 L618.06,668.19 L619.91,668.95 L621.76,669.70 L623.62,670.44 L625.48,671.17 L627.34,671.88 L629.23,672.55 L631.13,673.16 L633.04,673.72 L634.97,674.25 L636.91,674.75 L638.84,675.23 L640.79,675.71 L642.73,676.16 L644.69,676.56 L646.65,676.91 L648.63,677.20 L650.61,677.46 L652.60,677.71 L654.58,677.94 L656.57,678.17 L658.56,678.38 L660.55,678.57 L662.54,678.72 L664.53,678.86 L666.53,678.99 L668.53,679.11 L670.52,679.21 L672.52,679.29 L674.52,679.33 L676.51,679.32 L678.51,679.26 L680.50,679.16 L682.50,679.05 L684.50,678.93 L686.49,678.81 L688.49,678.68 L690.49,678.55 L692.48,678.42 L694.48,678.28 L696.47,678.13 L698.46,677.97 L700.45,677.78 L702.44,677.56 L704.43,677.33 L706.41,677.09 L708.40,676.83 L710.38,676.58 L712.36,676.30 L714.34,676.01 L716.31,675.68 L718.27,675.32 L720.24,674.95 L722.20,674.56 L724.16,674.17 L726.12,673.78 L728.08,673.38 L730.05,672.99 L732.01,672.60 L733.97,672.21 L735.93,671.81 L737.89,671.42 L739.85,671.03 L741.81,670.64 L743.77,670.25 L745.73,669.85 L747.70,669.46 L749.66,669.07 L751.62,668.68 L753.58,668.28 L755.54,667.89 L757.50,667.50 L759.46,667.11 L761.42,666.72 L763.39,666.32 L765.35,665.93 L767.31,665.54 L769.27,665.14 L771.22,664.73 L773.18,664.30 L775.12,663.84 L777.05,663.33 L778.98,662.79 L780.89,662.23 L782.81,661.66 L784.73,661.08 L786.64,660.51 L788.56,659.95 L790.49,659.40 L792.41,658.86 L794.34,658.33 L796.27,657.81 L798.20,657.28 L800.13,656.75 L802.06,656.22 L803.98,655.68 L805.91,655.14 L807.84,654.61 L809.76,654.07 L811.69,653.54 L813.62,653.01 L815.55,652.50 L817.49,652.00 L819.43,651.51 L821.37,651.03 L823.31,650.55 L825.25,650.08 L827.20,649.61 L829.15,649.16 L831.10,648.72 L833.05,648.31 L835.01,647.90 L836.97,647.51 L838.93,647.12 L840.90,646.73 L842.86,646.35 L844.83,645.99 L846.80,645.65 L848.77,645.33 L850.75,645.02 L852.72,644.72 L854.70,644.42 L856.68,644.13 L858.66,643.86 L860.64,643.62 L862.63,643.40 L864.62,643.21 L866.61,643.03 L868.61,642.85 L870.60,642.68 L872.59,642.50 L874.58,642.32 L876.57,642.13 L878.56,641.94 L880.55,641.74 L882.54,641.55 L884.53,641.35 L886.52,641.16 L888.52,640.98 L890.51,640.82 L892.50,640.67 L894.50,640.54 L896.49,640.41 L898.49,640.28 L900.49,640.15 L902.48,640.01 L904.48,639.87 L906.47,639.72 L908.47,639.58 L910.46,639.43 L912.46,639.29 L914.45,639.16 L916.45,639.02 L918.44,638.90 L920.44,638.77 L922.44,638.65 L924.43,638.54 L926.43,638.42 L928.43,638.32 L930.42,638.23 L932.42,638.15 L934.42,638.09 L936.42,638.03 L938.42,637.98 L940.42,637.92 L942.42,637.87 L944.42,637.81 L946.42,637.75 L948.41,637.68 L950.41,637.62 L952.41,637.55 L954.41,637.49 L956.41,637.42 L958.41,637.36 L960.41,637.30 L962.41,637.24 L964.41,637.18 L966.41,637.13 L968.40,637.08 L970.40,637.02 L972.40,636.97 L974.40,636.92 L976.40,636.86 L978.40,636.81 L980.40,636.76 L982.40,636.70 L984.40,636.65 L986.40,636.60 L988.40,636.55 L990.40,636.50 L992.40,636.45 L994.40,636.41 L996.39,636.35 L998.39,636.28 L1000.39,636.19 L1002.38,636.06 L1004.38,635.91 L1006.37,635.75 L1008.36,635.57 L1010.36,635.40 L1012.35,635.22 L1014.34,635.04 L1016.33,634.86 L1018.32,634.66 L1020.31,634.47 L1022.30,634.27 L1024.29,634.07 L1026.28,633.87 L1028.27,633.67 L1030.26,633.47 L1032.25,633.27 L1034.24,633.08 L1036.23,632.88 L1038.22,632.68 L1040.21,632.48 L1042.20,632.28 L1044.19,632.08 L1046.18,631.88 L1048.17,631.68 L1050.16,631.48 L1052.15,631.28 L1054.14,631.09 L1056.13,630.89 L1058.12,630.69 L1060.11,630.49 L1062.10,630.29 L1064.09,630.09 L1066.08,629.89 L1068.07,629.69 L1070.06,629.49 L1072.05,629.28 L1074.04,629.05 L1076.02,628.81 L1078.01,628.54 L1079.99,628.26 L1081.96,627.98 L1083.94,627.69 L1085.92,627.39 L1087.90,627.09 L1089.88,626.79 L1091.85,626.47 L1093.82,626.14 L1095.80,625.81 L1097.77,625.48 L1099.74,625.14 L1101.71,624.80 L1103.68,624.46 L1105.65,624.12 L1107.62,623.78 L1109.59,623.44 L1111.56,623.09 L1113.53,622.73 L1115.50,622.37 L1117.46,622.00 L1119.42,621.61 L1121.39,621.22 L1123.35,620.83 L1125.31,620.43 L1127.27,620.03 L1129.22,619.61 L1131.17,619.17 L1133.12,618.72 L1135.06,618.25 L1137.00,617.77 L1138.95,617.29 L1140.89,616.81 L1142.83,616.33 L1144.77,615.85 L1146.71,615.36 L1148.65,614.87 L1150.59,614.38 L1152.53,613.89 L1154.47,613.40 L1156.40,612.90 L1158.34,612.39 L1160.26,611.86 L1162.19,611.32 L1164.11,610.76 L1166.03,610.19 L1167.94,609.62 L1169.86,609.05 L1171.78,608.48 L1173.70,607.92 L1175.62,607.37 L1177.55,606.84 L1179.48,606.31 L1181.41,605.79 L1183.34,605.28 L1185.27,604.76 L1187.21,604.25 L1189.14,603.75 L1191.08,603.26 L1193.02,602.76 L1194.95,602.26 L1196.89,601.75 L1198.82,601.22 L1200.74,600.69 L1202.67,600.15 L1204.59,599.61 L1206.52,599.06 L1208.43,598.49 L1210.34,597.90 L1212.25,597.29 L1214.14,596.65 L1216.03,596.01 L1217.93,595.35 L1219.81,594.70 L1221.70,594.04 L1223.59,593.38 L1225.48,592.72 L1227.37,592.06 L1229.25,591.40 L1231.14,590.73 L1233.03,590.06 L1234.91,589.40 L1236.80,588.73 L1238.68,588.07 L1240.57,587.41 L1242.46,586.75 L1244.35,586.09 L1246.24,585.44 L1248.13,584.78 L1250.02,584.13 L1251.91,583.47 L1253.80,582.81 L1255.68,582.15 L1257.57,581.49 L1259.46,580.82 L1261.34,580.16 L1263.23,579.49 L1265.11,578.82 L1267.00,578.15 L1268.88,577.47 L1270.75,576.78 L1272.63,576.07 L1274.49,575.36 L1276.36,574.64 L1278.22,573.92 L1280.09,573.19 L1281.95,572.45 L1283.80,571.70 L1285.63,570.91 L1287.46,570.09 L1289.27,569.25 L1291.08,568.39 L1292.88,567.53 L1293.79,567.10"/>
<path stroke="#808000" d="M176.00,63.00 L177.99,63.16 L179.99,63.32 L181.98,63.50 L183.97,63.70 L185.95,63.94 L187.93,64.22 L189.90,64.53 L191.88,64.85 L193.85,65.18 L195.82,65.51 L197.78,65.87 L199.71,66.30 L201.58,66.86 L203.38,67.60 L205.09,68.53 L206.74,69.61 L208.34,70.79 L209.89,72.03 L211.39,73.34 L212.82,74.72 L214.20,76.16 L215.53,77.65 L216.85,79.15 L218.17,80.64 L219.52,82.11 L220.93,83.51 L222.41,84.85 L223.94,86.12 L225.50,87.35 L227.07,88.59 L228.60,89.86 L230.07,91.20 L231.48,92.61 L232.82,94.07 L234.14,95.58 L235.44,97.09 L236.74,98.62 L238.02,100.15 L239.30,101.69 L240.55,103.25 L241.76,104.83 L242.95,106.44 L244.11,108.07 L245.24,109.71 L246.33,111.39 L247.36,113.09 L248.34,114.83 L249.27,116.60 L250.18,118.38 L251.07,120.17 L251.95,121.96 L252.82,123.76 L253.68,125.57 L254.53,127.38 L255.37,129.20 L256.21,131.01 L257.06,132.82 L257.91,134.63 L258.77,136.44 L259.64,138.24 L260.52,140.03 L261.40,141.83 L262.27,143.63 L263.14,145.43 L264.00,147.24 L264.85,149.05 L265.70,150.86 L266.54,152.67 L267.38,154.49 L268.20,156.31 L269.01,158.14 L269.80,159.98 L270.57,161.82 L271.34,163.67 L272.08,165.52 L272.80,167.39 L273.47,169.27 L274.11,171.16 L274.72,173.07 L275.32,174.97 L275.91,176.88 L276.51,178.79 L277.12,180.70 L277.73,182.60 L278.36,184.50 L278.98,186.40 L279.60,188.30 L280.22,190.20 L280.81,192.11 L281.39,194.03 L281.94,195.95 L282.49,197.87 L283.03,199.80 L283.56,201.73 L284.10,203.65 L284.63,205.58 L285.17,207.51 L285.70,209.43 L286.24,211.36 L286.77,213.29 L287.30,215.22 L287.81,217.15 L288.31,219.09 L288.77,221.03 L289.21,222.98 L289.64,224.93 L290.05,226.89 L290.47,228.85 L290.88,230.80 L291.29,232.76 L291.70,234.72 L292.12,236.68 L292.53,238.63 L292.94,240.59 L293.35,242.55 L293.75,244.51 L294.15,246.47 L294.52,248.43 L294.88,250.40 L295.22,252.37 L295.56,254.34 L295.89,256.31 L296.21,258.29 L296.54,260.26 L296.87,262.23 L297.20,264.20 L297.53,266.18 L297.86,268.15 L298.18,270.12 L298.50,272.10 L298.80,274.07 L299.08,276.05 L299.34,278.04 L299.58,280.02 L299.82,282.01 L300.05,283.99 L300.28,285.98 L300.51,287.97 L300.74,289.95 L300.98,291.94 L301.21,293.93 L301.44,295.91 L301.67,297.90 L301.91,299.89 L302.15,301.87 L302.40,303.85 L302.67,305.84 L302.96,307.81 L303.26,309.79 L303.56,311.77 L303.87,313.74 L304.18,315.72 L304.50,317.70 L304.81,319.67 L305.12,321.65 L305.43,323.62 L305.74,325.60 L306.05,327.57 L306.36,329.55 L306.67,331.53 L306.98,333.50 L307.29,335.48 L307.60,337.45 L307.90,339.43 L308.21,341.41 L308.51,343.38 L308.80,345.36 L309.10,347.34 L309.40,349.32 L309.69,351.30 L309.99,353.27 L310.29,355.25 L310.58,357.23 L310.88,359.21 L311.18,361.18 L311.47,363.16 L311.77,365.14 L312.07,367.12 L312.36,369.10 L312.66,371.07 L312.96,373.05 L313.26,375.03 L313.57,377.00 L313.89,378.98 L314.24,380.95 L314.60,382.91 L314.99,384.88 L315.40,386.83 L315.83,388.78 L316.30,390.73 L316.80,392.66 L317.32,394.59 L317.85,396.52 L318.36,398.45 L318.86,400.39 L319.35,402.33 L319.83,404.27 L320.31,406.21 L320.78,408.15 L321.25,410.10 L321.72,412.04 L322.18,413.99 L322.63,415.94 L323.05,417.89 L323.46,419.85 L323.85,421.81 L324.24,423.77 L324.62,425.73 L325.00,427.70 L325.38,429.66 L325.76,431.62 L326.16,433.58 L326.58,435.54 L327.03,437.49 L327.52,439.42 L328.07,441.34 L328.67,443.24 L329.31,445.14 L329.96,447.03 L330.62,448.92 L331.28,450.80 L331.94,452.69 L332.61,454.58 L333.27,456.46 L333.95,458.34 L334.65,460.22 L335.36,462.09 L336.09,463.95 L336.83,465.81 L337.58,467.66 L338.34,469.51 L339.11,471.36 L339.89,473.20 L340.68,475.03 L341.49,476.86 L342.34,478.67 L343.24,480.45 L344.19,482.20 L345.18,483.94 L346.20,485.66 L347.22,487.38 L348.23,489.10 L349.23,490.83 L350.20,492.58 L351.13,494.35 L352.05,496.13 L352.95,497.91 L353.85,499.70 L354.74,501.49 L355.64,503.28 L356.53,505.06 L357.43,506.85 L358.32,508.64 L359.22,510.43 L360.12,512.22 L361.02,514.00 L361.94,515.78 L362.87,517.55 L363.81,519.31 L364.76,521.07 L365.71,522.83 L366.66,524.59 L367.60,526.36 L368.51,528.13 L369.39,529.93 L370.22,531.74 L371.00,533.58 L371.76,535.43 L372.51,537.28 L373.26,539.14 L374.01,540.99 L374.76,542.84 L375.55,544.68 L376.36,546.51 L377.20,548.32 L378.07,550.12 L378.96,551.91 L379.85,553.70 L380.74,555.49 L381.64,557.28 L382.52,559.08 L383.39,560.88 L384.24,562.68 L385.07,564.50 L385.89,566.33 L386.70,568.16 L387.51,569.99 L388.32,571.81 L389.14,573.64 L389.96,575.46 L390.78,577.29 L391.60,579.11 L392.42,580.93 L393.24,582.76 L394.06,584.58 L394.88,586.41 L395.70,588.23 L396.52,590.05 L397.34,591.88 L398.17,593.70 L398.99,595.53 L399.81,597.35 L400.63,599.17 L401.45,601.00 L402.27,602.82 L403.09,604.64 L403.93,606.46 L404.78,608.27 L405.67,610.06 L406.59,611.83 L407.55,613.59 L408.53,615.32 L409.54,617.05 L410.59,618.75 L411.66,620.44 L412.77,622.10 L413.90,623.75 L415.06,625.37 L416.26,626.98 L417.48,628.56 L418.72,630.12 L419.97,631.68 L421.24,633.23 L422.53,634.76 L423.85,636.25 L425.22,637.70 L426.62,639.12 L428.06,640.51 L429.51,641.89 L430.97,643.25 L432.43,644.61 L433.92,645.95 L435.43,647.24 L437.00,648.48 L438.60,649.66 L440.24,650.81 L441.90,651.93 L443.56,653.03 L445.23,654.12 L446.93,655.17 L448.66,656.13 L450.45,656.98 L452.29,657.72 L454.17,658.36 L456.07,658.96 L457.99,659.54 L459.91,660.09 L461.83,660.61 L463.77,661.06 L465.73,661.42 L467.70,661.70 L469.68,661.91 L471.67,662.09 L473.67,662.26 L475.66,662.43 L477.65,662.61 L479.64,662.80 L481.62,663.04 L483.60,663.31 L485.57,663.63 L487.54,663.99 L489.50,664.36 L491.47,664.74 L493.43,665.12 L495.40,665.50 L497.36,665.86 L499.33,666.21 L501.30,666.53 L503.28,666.85 L505.25,667.18 L507.20,667.55 L509.15,668.00 L511.08,668.51 L512.99,669.08 L514.89,669.70 L516.77,670.38 L518.63,671.09 L520.48,671.85 L522.31,672.65 L524.13,673.49 L525.93,674.36 L527.72,675.24 L529.51,676.14 L531.30,677.03 L533.09,677.92 L534.88,678.81 L536.67,679.70 L538.46,680.60 L540.24,681.49 L542.03,682.39 L543.82,683.29 L545.61,684.19 L547.39,685.08 L549.18,685.98 L550.95,686.90 L552.71,687.85 L554.46,688.82 L556.19,689.83 L557.91,690.85 L559.62,691.87 L561.34,692.90 L563.05,693.94 L564.75,694.98 L566.45,696.04 L568.12,697.13 L569.78,698.25 L571.43,699.38 L573.07,700.53 L574.70,701.68 L576.34,702.82 L577.98,703.97 L579.63,705.11 L581.27,706.25 L582.91,707.40 L584.54,708.55 L586.19,709.69 L587.84,710.81 L589.51,711.90 L591.21,712.94 L592.94,713.95 L594.69,714.92 L596.44,715.88 L598.20,716.83 L599.96,717.79 L601.71,718.74 L603.46,719.71 L605.20,720.70 L606.92,721.72 L608.61,722.77 L610.29,723.86 L611.96,724.96 L613.64,726.04 L615.34,727.08 L617.07,728.07 L618.83,729.01 L620.61,729.93 L622.39,730.83 L624.18,731.72 L625.97,732.61 L627.77,733.50 L629.56,734.39 L631.35,735.29 L633.14,736.17 L634.94,737.04 L636.75,737.87 L638.59,738.65 L640.45,739.37 L642.33,740.04 L644.22,740.69 L646.12,741.31 L648.03,741.91 L649.94,742.51 L651.85,743.09 L653.77,743.66 L655.69,744.21 L657.62,744.73 L659.56,745.20 L661.51,745.61 L663.48,745.97 L665.45,746.30 L667.42,746.60 L669.40,746.91 L671.38,747.21 L673.36,747.49 L675.34,747.75 L677.32,747.98 L679.31,748.18 L681.30,748.35 L683.30,748.50 L685.29,748.62 L687.29,748.71 L689.29,748.76 L691.28,748.77 L693.28,748.74 L695.28,748.67 L697.28,748.58 L699.27,748.47 L701.27,748.32 L703.26,748.15 L705.25,747.97 L707.24,747.77 L709.23,747.57 L711.22,747.36 L713.21,747.13 L715.19,746.87 L717.16,746.58 L719.14,746.27 L721.11,745.94 L723.08,745.60 L725.05,745.25 L727.02,744.89 L728.98,744.51 L730.93,744.09 L732.88,743.64 L734.82,743.17 L736.76,742.68 L738.70,742.19 L740.64,741.70 L742.58,741.20 L744.51,740.70 L746.45,740.19 L748.38,739.67 L750.31,739.15 L752.24,738.62 L754.17,738.09 L756.10,737.56 L758.02,737.01 L759.94,736.45 L761.85,735.86 L763.76,735.26 L765.66,734.65 L767.56,734.03 L769.46,733.41 L771.36,732.79 L773.27,732.17 L775.17,731.55 L777.07,730.94 L778.98,730.33 L780.88,729.72 L782.79,729.11 L784.69,728.50 L786.60,727.89 L788.50,727.28 L790.41,726.67 L792.31,726.06 L794.22,725.45 L796.12,724.85 L798.03,724.24 L799.94,723.65 L801.85,723.06 L803.76,722.48 L805.68,721.90 L807.59,721.32 L809.51,720.75 L811.42,720.17 L813.34,719.60 L815.25,719.02 L817.17,718.45 L819.09,717.87 L821.00,717.30 L822.92,716.73 L824.83,716.15 L826.75,715.58 L828.67,715.02 L830.59,714.47 L832.52,713.92 L834.44,713.39 L836.37,712.86 L838.30,712.33 L840.23,711.81 L842.16,711.29 L844.09,710.77 L846.03,710.27 L847.97,709.78 L849.91,709.29 L851.85,708.81 L853.79,708.33 L855.73,707.85 L857.67,707.37 L859.61,706.89 L861.55,706.40 L863.49,705.91 L865.43,705.42 L867.37,704.93 L869.31,704.44 L871.25,703.96 L873.20,703.49 L875.14,703.04 L877.10,702.61 L879.05,702.20 L881.01,701.80 L882.97,701.41 L884.94,701.02 L886.90,700.64 L888.87,700.28 L890.84,699.94 L892.81,699.63 L894.79,699.34 L896.77,699.05 L898.75,698.78 L900.73,698.50 L902.71,698.22 L904.69,697.94 L906.67,697.67 L908.65,697.39 L910.63,697.12 L912.62,696.85 L914.60,696.60 L916.59,696.37 L918.57,696.15 L920.56,695.95 L922.55,695.75 L924.54,695.55 L926.53,695.35 L928.52,695.17 L930.52,694.99 L932.51,694.83 L934.50,694.67 L936.50,694.52 L938.49,694.38 L940.49,694.24 L942.48,694.12 L944.48,694.01 L946.48,693.94 L948.48,693.90 L950.48,693.87 L952.48,693.85 L954.48,693.84 L956.48,693.82 L958.47,693.80 L960.47,693.76 L962.47,693.72 L964.47,693.68 L966.47,693.63 L968.47,693.57 L970.47,693.51 L972.47,693.43 L974.46,693.32 L976.46,693.17 L978.45,692.98 L980.43,692.78 L982.42,692.56 L984.41,692.34 L986.40,692.12 L988.39,691.91 L990.38,691.73 L992.37,691.56 L994.36,691.41 L996.36,691.29 L998.35,691.20 L1000.35,691.17 L1002.35,691.19 L1004.34,691.25 L1006.34,691.34 L1008.34,691.44 L1010.33,691.55 L1012.33,691.65 L1014.33,691.74 L1016.33,691.81 L1018.33,691.88 L1020.33,691.94 L1022.33,691.99 L1024.32,692.05 L1026.32,692.10 L1028.32,692.14 L1030.32,692.17 L1032.32,692.19 L1034.32,692.20 L1036.32,692.20 L1038.32,692.20 L1040.32,692.19 L1042.32,692.18 L1044.32,692.14 L1046.32,692.09 L1048.32,692.01 L1050.31,691.91 L1052.31,691.81 L1054.31,691.70 L1056.31,691.60 L1058.30,691.50 L1060.30,691.39 L1062.30,691.30 L1064.30,691.20 L1066.29,691.11 L1068.29,691.01 L1070.29,690.92 L1072.29,690.81 L1074.28,690.70 L1076.28,690.57 L1078.27,690.43 L1080.27,690.28 L1082.26,690.12 L1084.26,689.96 L1086.25,689.80 L1088.24,689.65 L1090.24,689.51 L1092.23,689.38 L1094.23,689.25 L1096.23,689.12 L1098.22,688.98 L1100.21,688.83 L1102.21,688.66 L1104.20,688.47 L1106.19,688.28 L1108.18,688.08 L1110.17,687.88 L1112.16,687.66 L1114.14,687.43 L1116.13,687.18 L1118.11,686.91 L1120.08,686.62 L1122.06,686.32 L1124.04,686.01 L1126.02,685.71 L1127.99,685.41 L1129.97,685.11 L1131.95,684.82 L1133.93,684.53 L1135.91,684.23 L1137.88,683.94 L1139.86,683.65 L1141.84,683.35 L1143.81,683.03 L1145.78,682.69 L1147.75,682.33 L1149.71,681.95 L1151.68,681.56 L1153.64,681.17 L1155.60,680.78 L1157.56,680.39 L1159.52,680.00 L1161.48,679.60 L1163.44,679.21 L1165.40,678.82 L1167.37,678.43 L1169.33,678.03 L1171.29,677.64 L1173.25,677.25 L1175.21,676.86 L1177.17,676.47 L1179.13,676.07 L1181.09,675.68 L1183.05,675.29 L1185.02,674.90 L1186.98,674.50 L1188.94,674.11 L1190.90,673.71 L1192.85,673.30 L1194.81,672.87 L1196.76,672.42 L1198.70,671.95 L1200.64,671.47 L1202.58,670.98 L1204.52,670.49 L1206.46,669.99 L1208.39,669.49 L1210.33,668.99 L1212.26,668.47 L1214.19,667.95 L1216.12,667.43 L1218.05,666.90 L1219.98,666.37 L1221.91,665.84 L1223.83,665.30 L1225.75,664.75 L1227.67,664.19 L1229.59,663.62 L1231.51,663.05 L1233.42,662.47 L1235.34,661.90 L1237.25,661.32 L1239.17,660.75 L1241.09,660.17 L1243.00,659.60 L1244.92,659.02 L1246.83,658.45 L1248.75,657.87 L1250.66,657.30 L1252.58,656.72 L1254.49,656.12 L1256.39,655.52 L1258.30,654.91 L1260.20,654.30 L1262.10,653.68 L1264.00,653.06 L1265.90,652.43 L1267.80,651.78 L1269.68,651.12 L1271.56,650.43 L1273.42,649.71 L1275.28,648.98 L1277.14,648.24 L1279.00,647.50 L1280.86,646.75 L1282.71,646.01 L1284.56,645.25 L1286.41,644.49 L1288.26,643.72 L1290.10,642.94 L1291.94,642.17 L1293.79,641.39"/>
</g>
<rect x="175.30" y="25.60" width="1119.40" height="821.20" fill="none" stroke="#000" stroke-width="3.00"/>
<path fill="none" stroke="#000" stroke-width="3.00" d="M175.30,846.80V863.30M231.27,846.80V854.80M287.24,846.80V863.30M343.21,846.80V854.80M399.18,846.80V863.30M455.15,846.80V854.80M511.12,846.80V863.30M567.09,846.80V854.80M623.06,846.80V863.30M679.03,846.80V854.80M735.00,846.80V863.30M790.97,846.80V854.80M846.94,846.80V863.30M902.91,846.80V854.80M958.88,846.80V863.30M1014.85,846.80V854.80M1070.82,846.80V863.30M1126.79,846.80V854.80M1182.76,846.80V863.30M1238.73,846.80V854.80M1294.70,846.80V863.30M175.30,846.80H158.80M175.30,788.14H167.30M175.30,729.49H158.80M175.30,670.83H167.30M175.30,612.17H158.80M175.30,553.51H167.30M175.30,494.86H158.80M175.30,436.20H167.30M175.30,377.54H158.80M175.30,318.89H167.30M175.30,260.23H158.80M175.30,201.57H167.30M175.30,142.91H158.80M175.30,84.26H167.30M175.30,25.60H158.80"/>
<text transform="translate(174.90,906.6) scale(1.015,1.075)" font-family="Liberation Serif" font-weight="bold" font-size="40" text-anchor="middle">300</text>
<text transform="translate(286.84,906.6) scale(1.015,1.075)" font-family="Liberation Serif" font-weight="bold" font-size="40" text-anchor="middle">350</text>
<text transform="translate(398.78,906.6) scale(1.015,1.075)" font-family="Liberation Serif" font-weight="bold" font-size="40" text-anchor="middle">400</text>
<text transform="translate(510.72,906.6) scale(1.015,1.075)" font-family="Liberation Serif" font-weight="bold" font-size="40" text-anchor="middle">450</text>
<text transform="translate(622.66,906.6) scale(1.015,1.075)" font-family="Liberation Serif" font-weight="bold" font-size="40" text-anchor="middle">500</text>
<text transform="translate(734.60,906.6) scale(1.015,1.075)" font-family="Liberation Serif" font-weight="bold" font-size="40" text-anchor="middle">550</text>
<text transform="translate(846.54,906.6) scale(1.015,1.075)" font-family="Liberation Serif" font-weight="bold" font-size="40" text-anchor="middle">600</text>
<text transform="translate(958.48,906.6) scale(1.015,1.075)" font-family="Liberation Serif" font-weight="bold" font-size="40" text-anchor="middle">650</text>
<text transform="translate(1070.42,906.6) scale(1.015,1.075)" font-family="Liberation Serif" font-weight="bold" font-size="40" text-anchor="middle">700</text>
<text transform="translate(1182.36,906.6) scale(1.015,1.075)" font-family="Liberation Serif" font-weight="bold" font-size="40" text-anchor="middle">750</text>
<text transform="translate(1294.30,906.6) scale(1.015,1.075)" font-family="Liberation Serif" font-weight="bold" font-size="40" text-anchor="middle">800</text>
<text transform="translate(146.2,859.60) scale(1.015,1.075)" font-family="Liberation Serif" font-weight="bold" font-size="40" text-anchor="end">0.2</text>
<text transform="translate(146.2,742.29) scale(1.015,1.075)" font-family="Liberation Serif" font-weight="bold" font-size="40" text-anchor="end">0.4</text>
<text transform="translate(146.2,624.97) scale(1.015,1.075)" font-family="Liberation Serif" font-weight="bold" font-size="40" text-anchor="end">0.6</text>
<text transform="translate(146.2,507.66) scale(1.015,1.075)" font-family="Liberation Serif" font-weight="bold" font-size="40" text-anchor="end">0.8</text>
<text transform="translate(146.2,390.34) scale(1.015,1.075)" font-family="Liberation Serif" font-weight="bold" font-size="40" text-anchor="end">1.0</text>
<text transform="translate(146.2,273.03) scale(1.015,1.075)" font-family="Liberation Serif" font-weight="bold" font-size="40" text-anchor="end">1.2</text>
<text transform="translate(146.2,155.71) scale(1.015,1.075)" font-family="Liberation Serif" font-weight="bold" font-size="40" text-anchor="end">1.4</text>
<text transform="translate(146.2,38.40) scale(1.015,1.075)" font-family="Liberation Serif" font-weight="bold" font-size="40" text-anchor="end">1.6</text>
<text x="734.6" y="982.3" font-family="Liberation Serif" font-weight="bold" font-size="45.8" text-anchor="middle">Wavelength (nm)</text>
<text transform="translate(46.2,419) rotate(-90)" x="0" y="0" font-family="Liberation Serif" font-weight="bold" font-size="46.7" text-anchor="middle">Absorbance (a.u.)</text>
<rect x="903" y="176.80" width="74" height="6" fill="#000000"/>
<text x="995.5" y="193.10" font-family="Liberation Serif" font-size="33">0 W</text>
<rect x="903" y="220.80" width="74" height="6" fill="#ff0000"/>
<text x="995.5" y="237.10" font-family="Liberation Serif" font-size="33">25 W</text>
<rect x="903" y="264.80" width="74" height="6" fill="#0000ff"/>
<text x="995.5" y="281.10" font-family="Liberation Serif" font-size="33">35 W</text>
<rect x="903" y="308.80" width="74" height="6" fill="#008080"/>
<text x="995.5" y="325.10" font-family="Liberation Serif" font-size="33">50 W</text>
<rect x="903" y="352.80" width="74" height="6" fill="#ff00ff"/>
<text x="995.5" y="369.10" font-family="Liberation Serif" font-size="33">75 W</text>
<rect x="903" y="396.80" width="74" height="6" fill="#808000"/>
<text x="995.5" y="413.10" font-family="Liberation Serif" font-size="33">100 W</text>
</svg>
</body></html>
